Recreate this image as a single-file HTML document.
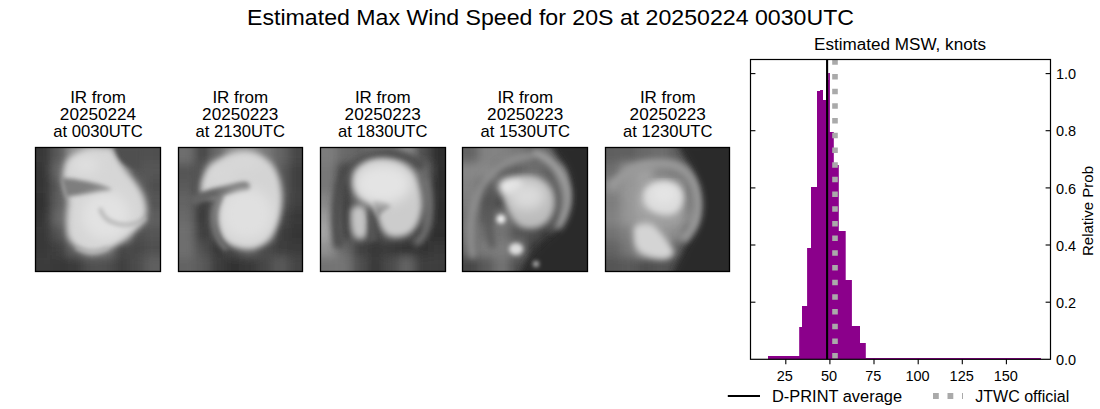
<!DOCTYPE html>
<html><head><meta charset="utf-8">
<style>
html,body{margin:0;padding:0;background:#fff;width:1100px;height:409px;overflow:hidden}
svg{position:absolute;left:0;top:0}
text{font-family:"Liberation Sans",sans-serif;fill:#000}
</style></head><body>
<svg width="1100" height="409" viewBox="0 0 1100 409">
<defs>
<filter id="b2" x="-20%" y="-20%" width="140%" height="140%"><feGaussianBlur stdDeviation="2"/></filter>
<filter id="b3" x="-20%" y="-20%" width="140%" height="140%"><feGaussianBlur stdDeviation="3"/></filter>
<filter id="b6" x="-30%" y="-30%" width="160%" height="160%"><feGaussianBlur stdDeviation="6"/></filter>
<filter id="b10" x="-50%" y="-50%" width="200%" height="200%"><feGaussianBlur stdDeviation="10"/></filter>
<clipPath id="c0"><rect x="0" y="0" width="125" height="124"/></clipPath>
<!--FILT-->
<filter id="bg0" x="-10%" y="-10%" width="120%" height="120%"><feGaussianBlur stdDeviation="5.00"/></filter>
<filter id="bg1" x="-10%" y="-10%" width="120%" height="120%"><feGaussianBlur stdDeviation="5.00"/></filter>
<filter id="bg2" x="-10%" y="-10%" width="120%" height="120%"><feGaussianBlur stdDeviation="5.00"/></filter>
<filter id="bg3" x="-10%" y="-10%" width="120%" height="120%"><feGaussianBlur stdDeviation="5.00"/></filter>
<filter id="bg4" x="-10%" y="-10%" width="120%" height="120%"><feGaussianBlur stdDeviation="5.00"/></filter>
<!--/FILT-->
</defs>

<!-- suptitle -->
<text x="247" y="25" font-size="22" textLength="607" lengthAdjust="spacingAndGlyphs">Estimated Max Wind Speed for 20S at 20250224 0030UTC</text>

<!-- panel titles -->
<g font-size="17" text-anchor="middle">
<text x="98" y="103">IR from</text><text x="98" y="120" textLength="76.3" lengthAdjust="spacingAndGlyphs">20250224</text><text x="98" y="137" textLength="89.6" lengthAdjust="spacingAndGlyphs">at 0030UTC</text>
<text x="240.25" y="103">IR from</text><text x="240.25" y="120" textLength="76.3" lengthAdjust="spacingAndGlyphs">20250223</text><text x="240.25" y="137" textLength="89.6" lengthAdjust="spacingAndGlyphs">at 2130UTC</text>
<text x="382.75" y="103">IR from</text><text x="382.75" y="120" textLength="76.3" lengthAdjust="spacingAndGlyphs">20250223</text><text x="382.75" y="137" textLength="89.6" lengthAdjust="spacingAndGlyphs">at 1830UTC</text>
<text x="525.25" y="103">IR from</text><text x="525.25" y="120" textLength="76.3" lengthAdjust="spacingAndGlyphs">20250223</text><text x="525.25" y="137" textLength="89.6" lengthAdjust="spacingAndGlyphs">at 1530UTC</text>
<text x="667.75" y="103">IR from</text><text x="667.75" y="120" textLength="76.3" lengthAdjust="spacingAndGlyphs">20250223</text><text x="667.75" y="137" textLength="89.6" lengthAdjust="spacingAndGlyphs">at 1230UTC</text>
</g>

<!--PANELS-->
<!-- panel 1 -->
<clipPath id="pc0"><rect x="0" y="0" width="124" height="123"/></clipPath>
<g transform="translate(36.00,148.00)" clip-path="url(#pc0)">
<g filter="url(#bg0)">
<rect x="-47.08" y="-46.70" width="16.02" height="15.90" fill="#373737"/>
<rect x="-31.45" y="-46.70" width="16.02" height="15.90" fill="#373737"/>
<rect x="-15.82" y="-46.70" width="16.02" height="15.90" fill="#373737"/>
<rect x="-0.20" y="-46.70" width="16.02" height="15.90" fill="#373737"/>
<rect x="15.43" y="-46.70" width="16.02" height="15.90" fill="#5a5a5a"/>
<rect x="31.05" y="-46.70" width="16.02" height="15.90" fill="#969696"/>
<rect x="46.67" y="-46.70" width="16.02" height="15.90" fill="#aaaaaa"/>
<rect x="62.30" y="-46.70" width="16.02" height="15.90" fill="#969696"/>
<rect x="77.92" y="-46.70" width="16.02" height="15.90" fill="#464646"/>
<rect x="93.55" y="-46.70" width="16.02" height="15.90" fill="#505050"/>
<rect x="109.17" y="-46.70" width="16.02" height="15.90" fill="#505050"/>
<rect x="124.80" y="-46.70" width="16.02" height="15.90" fill="#505050"/>
<rect x="140.43" y="-46.70" width="16.02" height="15.90" fill="#505050"/>
<rect x="156.05" y="-46.70" width="16.02" height="15.90" fill="#505050"/>
<rect x="-47.08" y="-31.20" width="16.02" height="15.90" fill="#373737"/>
<rect x="-31.45" y="-31.20" width="16.02" height="15.90" fill="#373737"/>
<rect x="-15.82" y="-31.20" width="16.02" height="15.90" fill="#373737"/>
<rect x="-0.20" y="-31.20" width="16.02" height="15.90" fill="#373737"/>
<rect x="15.43" y="-31.20" width="16.02" height="15.90" fill="#5a5a5a"/>
<rect x="31.05" y="-31.20" width="16.02" height="15.90" fill="#969696"/>
<rect x="46.67" y="-31.20" width="16.02" height="15.90" fill="#aaaaaa"/>
<rect x="62.30" y="-31.20" width="16.02" height="15.90" fill="#969696"/>
<rect x="77.92" y="-31.20" width="16.02" height="15.90" fill="#464646"/>
<rect x="93.55" y="-31.20" width="16.02" height="15.90" fill="#505050"/>
<rect x="109.17" y="-31.20" width="16.02" height="15.90" fill="#505050"/>
<rect x="124.80" y="-31.20" width="16.02" height="15.90" fill="#505050"/>
<rect x="140.43" y="-31.20" width="16.02" height="15.90" fill="#505050"/>
<rect x="156.05" y="-31.20" width="16.02" height="15.90" fill="#505050"/>
<rect x="-47.08" y="-15.70" width="16.02" height="15.90" fill="#373737"/>
<rect x="-31.45" y="-15.70" width="16.02" height="15.90" fill="#373737"/>
<rect x="-15.82" y="-15.70" width="16.02" height="15.90" fill="#373737"/>
<rect x="-0.20" y="-15.70" width="16.02" height="15.90" fill="#373737"/>
<rect x="15.43" y="-15.70" width="16.02" height="15.90" fill="#5a5a5a"/>
<rect x="31.05" y="-15.70" width="16.02" height="15.90" fill="#969696"/>
<rect x="46.67" y="-15.70" width="16.02" height="15.90" fill="#aaaaaa"/>
<rect x="62.30" y="-15.70" width="16.02" height="15.90" fill="#969696"/>
<rect x="77.92" y="-15.70" width="16.02" height="15.90" fill="#464646"/>
<rect x="93.55" y="-15.70" width="16.02" height="15.90" fill="#505050"/>
<rect x="109.17" y="-15.70" width="16.02" height="15.90" fill="#505050"/>
<rect x="124.80" y="-15.70" width="16.02" height="15.90" fill="#505050"/>
<rect x="140.43" y="-15.70" width="16.02" height="15.90" fill="#505050"/>
<rect x="156.05" y="-15.70" width="16.02" height="15.90" fill="#505050"/>
<rect x="-47.08" y="-0.20" width="16.02" height="15.90" fill="#373737"/>
<rect x="-31.45" y="-0.20" width="16.02" height="15.90" fill="#373737"/>
<rect x="-15.82" y="-0.20" width="16.02" height="15.90" fill="#373737"/>
<rect x="-0.20" y="-0.20" width="16.02" height="15.90" fill="#373737"/>
<rect x="15.43" y="-0.20" width="16.02" height="15.90" fill="#5a5a5a"/>
<rect x="31.05" y="-0.20" width="16.02" height="15.90" fill="#969696"/>
<rect x="46.67" y="-0.20" width="16.02" height="15.90" fill="#aaaaaa"/>
<rect x="62.30" y="-0.20" width="16.02" height="15.90" fill="#969696"/>
<rect x="77.92" y="-0.20" width="16.02" height="15.90" fill="#464646"/>
<rect x="93.55" y="-0.20" width="16.02" height="15.90" fill="#505050"/>
<rect x="109.17" y="-0.20" width="16.02" height="15.90" fill="#505050"/>
<rect x="124.80" y="-0.20" width="16.02" height="15.90" fill="#505050"/>
<rect x="140.43" y="-0.20" width="16.02" height="15.90" fill="#505050"/>
<rect x="156.05" y="-0.20" width="16.02" height="15.90" fill="#505050"/>
<rect x="-47.08" y="15.30" width="16.02" height="15.90" fill="#343434"/>
<rect x="-31.45" y="15.30" width="16.02" height="15.90" fill="#343434"/>
<rect x="-15.82" y="15.30" width="16.02" height="15.90" fill="#343434"/>
<rect x="-0.20" y="15.30" width="16.02" height="15.90" fill="#343434"/>
<rect x="15.43" y="15.30" width="16.02" height="15.90" fill="#696969"/>
<rect x="31.05" y="15.30" width="16.02" height="15.90" fill="#969696"/>
<rect x="46.67" y="15.30" width="16.02" height="15.90" fill="#aaaaaa"/>
<rect x="62.30" y="15.30" width="16.02" height="15.90" fill="#a0a0a0"/>
<rect x="77.92" y="15.30" width="16.02" height="15.90" fill="#828282"/>
<rect x="93.55" y="15.30" width="16.02" height="15.90" fill="#555555"/>
<rect x="109.17" y="15.30" width="16.02" height="15.90" fill="#555555"/>
<rect x="124.80" y="15.30" width="16.02" height="15.90" fill="#555555"/>
<rect x="140.43" y="15.30" width="16.02" height="15.90" fill="#555555"/>
<rect x="156.05" y="15.30" width="16.02" height="15.90" fill="#555555"/>
<rect x="-47.08" y="30.80" width="16.02" height="15.90" fill="#343434"/>
<rect x="-31.45" y="30.80" width="16.02" height="15.90" fill="#343434"/>
<rect x="-15.82" y="30.80" width="16.02" height="15.90" fill="#343434"/>
<rect x="-0.20" y="30.80" width="16.02" height="15.90" fill="#343434"/>
<rect x="15.43" y="30.80" width="16.02" height="15.90" fill="#5a5a5a"/>
<rect x="31.05" y="30.80" width="16.02" height="15.90" fill="#787878"/>
<rect x="46.67" y="30.80" width="16.02" height="15.90" fill="#787878"/>
<rect x="62.30" y="30.80" width="16.02" height="15.90" fill="#8c8c8c"/>
<rect x="77.92" y="30.80" width="16.02" height="15.90" fill="#969696"/>
<rect x="93.55" y="30.80" width="16.02" height="15.90" fill="#646464"/>
<rect x="109.17" y="30.80" width="16.02" height="15.90" fill="#505050"/>
<rect x="124.80" y="30.80" width="16.02" height="15.90" fill="#505050"/>
<rect x="140.43" y="30.80" width="16.02" height="15.90" fill="#505050"/>
<rect x="156.05" y="30.80" width="16.02" height="15.90" fill="#505050"/>
<rect x="-47.08" y="46.30" width="16.02" height="15.90" fill="#323232"/>
<rect x="-31.45" y="46.30" width="16.02" height="15.90" fill="#323232"/>
<rect x="-15.82" y="46.30" width="16.02" height="15.90" fill="#323232"/>
<rect x="-0.20" y="46.30" width="16.02" height="15.90" fill="#323232"/>
<rect x="15.43" y="46.30" width="16.02" height="15.90" fill="#5f5f5f"/>
<rect x="31.05" y="46.30" width="16.02" height="15.90" fill="#8c8c8c"/>
<rect x="46.67" y="46.30" width="16.02" height="15.90" fill="#aaaaaa"/>
<rect x="62.30" y="46.30" width="16.02" height="15.90" fill="#aaaaaa"/>
<rect x="77.92" y="46.30" width="16.02" height="15.90" fill="#aaaaaa"/>
<rect x="93.55" y="46.30" width="16.02" height="15.90" fill="#787878"/>
<rect x="109.17" y="46.30" width="16.02" height="15.90" fill="#555555"/>
<rect x="124.80" y="46.30" width="16.02" height="15.90" fill="#555555"/>
<rect x="140.43" y="46.30" width="16.02" height="15.90" fill="#555555"/>
<rect x="156.05" y="46.30" width="16.02" height="15.90" fill="#555555"/>
<rect x="-47.08" y="61.80" width="16.02" height="15.90" fill="#343434"/>
<rect x="-31.45" y="61.80" width="16.02" height="15.90" fill="#343434"/>
<rect x="-15.82" y="61.80" width="16.02" height="15.90" fill="#343434"/>
<rect x="-0.20" y="61.80" width="16.02" height="15.90" fill="#343434"/>
<rect x="15.43" y="61.80" width="16.02" height="15.90" fill="#696969"/>
<rect x="31.05" y="61.80" width="16.02" height="15.90" fill="#8c8c8c"/>
<rect x="46.67" y="61.80" width="16.02" height="15.90" fill="#aaaaaa"/>
<rect x="62.30" y="61.80" width="16.02" height="15.90" fill="#aaaaaa"/>
<rect x="77.92" y="61.80" width="16.02" height="15.90" fill="#aaaaaa"/>
<rect x="93.55" y="61.80" width="16.02" height="15.90" fill="#787878"/>
<rect x="109.17" y="61.80" width="16.02" height="15.90" fill="#5f5f5f"/>
<rect x="124.80" y="61.80" width="16.02" height="15.90" fill="#5f5f5f"/>
<rect x="140.43" y="61.80" width="16.02" height="15.90" fill="#5f5f5f"/>
<rect x="156.05" y="61.80" width="16.02" height="15.90" fill="#5f5f5f"/>
<rect x="-47.08" y="77.30" width="16.02" height="15.90" fill="#373737"/>
<rect x="-31.45" y="77.30" width="16.02" height="15.90" fill="#373737"/>
<rect x="-15.82" y="77.30" width="16.02" height="15.90" fill="#373737"/>
<rect x="-0.20" y="77.30" width="16.02" height="15.90" fill="#373737"/>
<rect x="15.43" y="77.30" width="16.02" height="15.90" fill="#555555"/>
<rect x="31.05" y="77.30" width="16.02" height="15.90" fill="#828282"/>
<rect x="46.67" y="77.30" width="16.02" height="15.90" fill="#aaaaaa"/>
<rect x="62.30" y="77.30" width="16.02" height="15.90" fill="#aaaaaa"/>
<rect x="77.92" y="77.30" width="16.02" height="15.90" fill="#969696"/>
<rect x="93.55" y="77.30" width="16.02" height="15.90" fill="#505050"/>
<rect x="109.17" y="77.30" width="16.02" height="15.90" fill="#555555"/>
<rect x="124.80" y="77.30" width="16.02" height="15.90" fill="#555555"/>
<rect x="140.43" y="77.30" width="16.02" height="15.90" fill="#555555"/>
<rect x="156.05" y="77.30" width="16.02" height="15.90" fill="#555555"/>
<rect x="-47.08" y="92.80" width="16.02" height="15.90" fill="#373737"/>
<rect x="-31.45" y="92.80" width="16.02" height="15.90" fill="#373737"/>
<rect x="-15.82" y="92.80" width="16.02" height="15.90" fill="#373737"/>
<rect x="-0.20" y="92.80" width="16.02" height="15.90" fill="#373737"/>
<rect x="15.43" y="92.80" width="16.02" height="15.90" fill="#414141"/>
<rect x="31.05" y="92.80" width="16.02" height="15.90" fill="#646464"/>
<rect x="46.67" y="92.80" width="16.02" height="15.90" fill="#828282"/>
<rect x="62.30" y="92.80" width="16.02" height="15.90" fill="#787878"/>
<rect x="77.92" y="92.80" width="16.02" height="15.90" fill="#464646"/>
<rect x="93.55" y="92.80" width="16.02" height="15.90" fill="#464646"/>
<rect x="109.17" y="92.80" width="16.02" height="15.90" fill="#505050"/>
<rect x="124.80" y="92.80" width="16.02" height="15.90" fill="#505050"/>
<rect x="140.43" y="92.80" width="16.02" height="15.90" fill="#505050"/>
<rect x="156.05" y="92.80" width="16.02" height="15.90" fill="#505050"/>
<rect x="-47.08" y="108.30" width="16.02" height="15.90" fill="#3a3a3a"/>
<rect x="-31.45" y="108.30" width="16.02" height="15.90" fill="#3a3a3a"/>
<rect x="-15.82" y="108.30" width="16.02" height="15.90" fill="#3a3a3a"/>
<rect x="-0.20" y="108.30" width="16.02" height="15.90" fill="#3a3a3a"/>
<rect x="15.43" y="108.30" width="16.02" height="15.90" fill="#373737"/>
<rect x="31.05" y="108.30" width="16.02" height="15.90" fill="#3a3a3a"/>
<rect x="46.67" y="108.30" width="16.02" height="15.90" fill="#505050"/>
<rect x="62.30" y="108.30" width="16.02" height="15.90" fill="#505050"/>
<rect x="77.92" y="108.30" width="16.02" height="15.90" fill="#414141"/>
<rect x="93.55" y="108.30" width="16.02" height="15.90" fill="#4b4b4b"/>
<rect x="109.17" y="108.30" width="16.02" height="15.90" fill="#5f5f5f"/>
<rect x="124.80" y="108.30" width="16.02" height="15.90" fill="#5f5f5f"/>
<rect x="140.43" y="108.30" width="16.02" height="15.90" fill="#5f5f5f"/>
<rect x="156.05" y="108.30" width="16.02" height="15.90" fill="#5f5f5f"/>
<rect x="-47.08" y="123.80" width="16.02" height="15.90" fill="#3a3a3a"/>
<rect x="-31.45" y="123.80" width="16.02" height="15.90" fill="#3a3a3a"/>
<rect x="-15.82" y="123.80" width="16.02" height="15.90" fill="#3a3a3a"/>
<rect x="-0.20" y="123.80" width="16.02" height="15.90" fill="#3a3a3a"/>
<rect x="15.43" y="123.80" width="16.02" height="15.90" fill="#373737"/>
<rect x="31.05" y="123.80" width="16.02" height="15.90" fill="#3a3a3a"/>
<rect x="46.67" y="123.80" width="16.02" height="15.90" fill="#505050"/>
<rect x="62.30" y="123.80" width="16.02" height="15.90" fill="#505050"/>
<rect x="77.92" y="123.80" width="16.02" height="15.90" fill="#414141"/>
<rect x="93.55" y="123.80" width="16.02" height="15.90" fill="#4b4b4b"/>
<rect x="109.17" y="123.80" width="16.02" height="15.90" fill="#5f5f5f"/>
<rect x="124.80" y="123.80" width="16.02" height="15.90" fill="#5f5f5f"/>
<rect x="140.43" y="123.80" width="16.02" height="15.90" fill="#5f5f5f"/>
<rect x="156.05" y="123.80" width="16.02" height="15.90" fill="#5f5f5f"/>
<rect x="-47.08" y="139.30" width="16.02" height="15.90" fill="#3a3a3a"/>
<rect x="-31.45" y="139.30" width="16.02" height="15.90" fill="#3a3a3a"/>
<rect x="-15.82" y="139.30" width="16.02" height="15.90" fill="#3a3a3a"/>
<rect x="-0.20" y="139.30" width="16.02" height="15.90" fill="#3a3a3a"/>
<rect x="15.43" y="139.30" width="16.02" height="15.90" fill="#373737"/>
<rect x="31.05" y="139.30" width="16.02" height="15.90" fill="#3a3a3a"/>
<rect x="46.67" y="139.30" width="16.02" height="15.90" fill="#505050"/>
<rect x="62.30" y="139.30" width="16.02" height="15.90" fill="#505050"/>
<rect x="77.92" y="139.30" width="16.02" height="15.90" fill="#414141"/>
<rect x="93.55" y="139.30" width="16.02" height="15.90" fill="#4b4b4b"/>
<rect x="109.17" y="139.30" width="16.02" height="15.90" fill="#5f5f5f"/>
<rect x="124.80" y="139.30" width="16.02" height="15.90" fill="#5f5f5f"/>
<rect x="140.43" y="139.30" width="16.02" height="15.90" fill="#5f5f5f"/>
<rect x="156.05" y="139.30" width="16.02" height="15.90" fill="#5f5f5f"/>
<rect x="-47.08" y="154.80" width="16.02" height="15.90" fill="#3a3a3a"/>
<rect x="-31.45" y="154.80" width="16.02" height="15.90" fill="#3a3a3a"/>
<rect x="-15.82" y="154.80" width="16.02" height="15.90" fill="#3a3a3a"/>
<rect x="-0.20" y="154.80" width="16.02" height="15.90" fill="#3a3a3a"/>
<rect x="15.43" y="154.80" width="16.02" height="15.90" fill="#373737"/>
<rect x="31.05" y="154.80" width="16.02" height="15.90" fill="#3a3a3a"/>
<rect x="46.67" y="154.80" width="16.02" height="15.90" fill="#505050"/>
<rect x="62.30" y="154.80" width="16.02" height="15.90" fill="#505050"/>
<rect x="77.92" y="154.80" width="16.02" height="15.90" fill="#414141"/>
<rect x="93.55" y="154.80" width="16.02" height="15.90" fill="#4b4b4b"/>
<rect x="109.17" y="154.80" width="16.02" height="15.90" fill="#5f5f5f"/>
<rect x="124.80" y="154.80" width="16.02" height="15.90" fill="#5f5f5f"/>
<rect x="140.43" y="154.80" width="16.02" height="15.90" fill="#5f5f5f"/>
<rect x="156.05" y="154.80" width="16.02" height="15.90" fill="#5f5f5f"/>
</g>
<g filter="url(#b3)">
<path d="M30,14 C36,6 48,1 62,0 L76,0 C80,8 86,18 94,28 C102,36 108,46 110,58 C112,68 106,78 98,84 C90,90 82,96 74,100 C66,104 58,107 50,104 C42,101 35,96 32,88 C30,78 31,64 33,54 C32,48 28,44 27,36 C26,28 28,20 30,14 Z" fill="#d6d6d6"/>
</g>
<g filter="url(#b2)">
<path d="M25,30 C38,30 50,33 62,36 C68,38 74,40 76,42 C66,45 50,45 30,49 Z" fill="#7e7e7e"/>
<path d="M78,-2 L105,-2 L105,22 C98,22 90,18 86,13 C83,9 81,5 78,-2 Z" fill="#505050"/>
</g>
<g filter="url(#b6)">
<ellipse cx="70" cy="68" rx="24" ry="24" fill="#e2e2e2"/>
<ellipse cx="50" cy="17" rx="13" ry="8" fill="#e0e0e0"/>
</g>
<g filter="url(#b2)" fill="none">
<path d="M64,60 C66,68 72,74 82,76 C92,78 102,76 110,70" stroke="#b4b4b4" stroke-width="3.5"/>
<path d="M40,100 C50,104 62,104 72,100" stroke="#b0b0b0" stroke-width="3"/>
</g>
</g>
<!-- panel 2 -->
<clipPath id="pc1"><rect x="0" y="0" width="123" height="123"/></clipPath>
<g transform="translate(179.00,148.00)" clip-path="url(#pc1)">
<g filter="url(#bg1)">
<rect x="-47.08" y="-46.70" width="16.02" height="15.90" fill="#6e6e6e"/>
<rect x="-31.45" y="-46.70" width="16.02" height="15.90" fill="#6e6e6e"/>
<rect x="-15.82" y="-46.70" width="16.02" height="15.90" fill="#6e6e6e"/>
<rect x="-0.20" y="-46.70" width="16.02" height="15.90" fill="#6e6e6e"/>
<rect x="15.43" y="-46.70" width="16.02" height="15.90" fill="#464646"/>
<rect x="31.05" y="-46.70" width="16.02" height="15.90" fill="#696969"/>
<rect x="46.67" y="-46.70" width="16.02" height="15.90" fill="#8c8c8c"/>
<rect x="62.30" y="-46.70" width="16.02" height="15.90" fill="#8c8c8c"/>
<rect x="77.92" y="-46.70" width="16.02" height="15.90" fill="#787878"/>
<rect x="93.55" y="-46.70" width="16.02" height="15.90" fill="#646464"/>
<rect x="109.17" y="-46.70" width="16.02" height="15.90" fill="#464646"/>
<rect x="124.80" y="-46.70" width="16.02" height="15.90" fill="#464646"/>
<rect x="140.43" y="-46.70" width="16.02" height="15.90" fill="#464646"/>
<rect x="156.05" y="-46.70" width="16.02" height="15.90" fill="#464646"/>
<rect x="-47.08" y="-31.20" width="16.02" height="15.90" fill="#6e6e6e"/>
<rect x="-31.45" y="-31.20" width="16.02" height="15.90" fill="#6e6e6e"/>
<rect x="-15.82" y="-31.20" width="16.02" height="15.90" fill="#6e6e6e"/>
<rect x="-0.20" y="-31.20" width="16.02" height="15.90" fill="#6e6e6e"/>
<rect x="15.43" y="-31.20" width="16.02" height="15.90" fill="#464646"/>
<rect x="31.05" y="-31.20" width="16.02" height="15.90" fill="#696969"/>
<rect x="46.67" y="-31.20" width="16.02" height="15.90" fill="#8c8c8c"/>
<rect x="62.30" y="-31.20" width="16.02" height="15.90" fill="#8c8c8c"/>
<rect x="77.92" y="-31.20" width="16.02" height="15.90" fill="#787878"/>
<rect x="93.55" y="-31.20" width="16.02" height="15.90" fill="#646464"/>
<rect x="109.17" y="-31.20" width="16.02" height="15.90" fill="#464646"/>
<rect x="124.80" y="-31.20" width="16.02" height="15.90" fill="#464646"/>
<rect x="140.43" y="-31.20" width="16.02" height="15.90" fill="#464646"/>
<rect x="156.05" y="-31.20" width="16.02" height="15.90" fill="#464646"/>
<rect x="-47.08" y="-15.70" width="16.02" height="15.90" fill="#6e6e6e"/>
<rect x="-31.45" y="-15.70" width="16.02" height="15.90" fill="#6e6e6e"/>
<rect x="-15.82" y="-15.70" width="16.02" height="15.90" fill="#6e6e6e"/>
<rect x="-0.20" y="-15.70" width="16.02" height="15.90" fill="#6e6e6e"/>
<rect x="15.43" y="-15.70" width="16.02" height="15.90" fill="#464646"/>
<rect x="31.05" y="-15.70" width="16.02" height="15.90" fill="#696969"/>
<rect x="46.67" y="-15.70" width="16.02" height="15.90" fill="#8c8c8c"/>
<rect x="62.30" y="-15.70" width="16.02" height="15.90" fill="#8c8c8c"/>
<rect x="77.92" y="-15.70" width="16.02" height="15.90" fill="#787878"/>
<rect x="93.55" y="-15.70" width="16.02" height="15.90" fill="#646464"/>
<rect x="109.17" y="-15.70" width="16.02" height="15.90" fill="#464646"/>
<rect x="124.80" y="-15.70" width="16.02" height="15.90" fill="#464646"/>
<rect x="140.43" y="-15.70" width="16.02" height="15.90" fill="#464646"/>
<rect x="156.05" y="-15.70" width="16.02" height="15.90" fill="#464646"/>
<rect x="-47.08" y="-0.20" width="16.02" height="15.90" fill="#6e6e6e"/>
<rect x="-31.45" y="-0.20" width="16.02" height="15.90" fill="#6e6e6e"/>
<rect x="-15.82" y="-0.20" width="16.02" height="15.90" fill="#6e6e6e"/>
<rect x="-0.20" y="-0.20" width="16.02" height="15.90" fill="#6e6e6e"/>
<rect x="15.43" y="-0.20" width="16.02" height="15.90" fill="#464646"/>
<rect x="31.05" y="-0.20" width="16.02" height="15.90" fill="#696969"/>
<rect x="46.67" y="-0.20" width="16.02" height="15.90" fill="#8c8c8c"/>
<rect x="62.30" y="-0.20" width="16.02" height="15.90" fill="#8c8c8c"/>
<rect x="77.92" y="-0.20" width="16.02" height="15.90" fill="#787878"/>
<rect x="93.55" y="-0.20" width="16.02" height="15.90" fill="#646464"/>
<rect x="109.17" y="-0.20" width="16.02" height="15.90" fill="#464646"/>
<rect x="124.80" y="-0.20" width="16.02" height="15.90" fill="#464646"/>
<rect x="140.43" y="-0.20" width="16.02" height="15.90" fill="#464646"/>
<rect x="156.05" y="-0.20" width="16.02" height="15.90" fill="#464646"/>
<rect x="-47.08" y="15.30" width="16.02" height="15.90" fill="#555555"/>
<rect x="-31.45" y="15.30" width="16.02" height="15.90" fill="#555555"/>
<rect x="-15.82" y="15.30" width="16.02" height="15.90" fill="#555555"/>
<rect x="-0.20" y="15.30" width="16.02" height="15.90" fill="#555555"/>
<rect x="15.43" y="15.30" width="16.02" height="15.90" fill="#505050"/>
<rect x="31.05" y="15.30" width="16.02" height="15.90" fill="#8c8c8c"/>
<rect x="46.67" y="15.30" width="16.02" height="15.90" fill="#a0a0a0"/>
<rect x="62.30" y="15.30" width="16.02" height="15.90" fill="#a0a0a0"/>
<rect x="77.92" y="15.30" width="16.02" height="15.90" fill="#969696"/>
<rect x="93.55" y="15.30" width="16.02" height="15.90" fill="#5a5a5a"/>
<rect x="109.17" y="15.30" width="16.02" height="15.90" fill="#414141"/>
<rect x="124.80" y="15.30" width="16.02" height="15.90" fill="#414141"/>
<rect x="140.43" y="15.30" width="16.02" height="15.90" fill="#414141"/>
<rect x="156.05" y="15.30" width="16.02" height="15.90" fill="#414141"/>
<rect x="-47.08" y="30.80" width="16.02" height="15.90" fill="#5a5a5a"/>
<rect x="-31.45" y="30.80" width="16.02" height="15.90" fill="#5a5a5a"/>
<rect x="-15.82" y="30.80" width="16.02" height="15.90" fill="#5a5a5a"/>
<rect x="-0.20" y="30.80" width="16.02" height="15.90" fill="#5a5a5a"/>
<rect x="15.43" y="30.80" width="16.02" height="15.90" fill="#464646"/>
<rect x="31.05" y="30.80" width="16.02" height="15.90" fill="#787878"/>
<rect x="46.67" y="30.80" width="16.02" height="15.90" fill="#828282"/>
<rect x="62.30" y="30.80" width="16.02" height="15.90" fill="#a0a0a0"/>
<rect x="77.92" y="30.80" width="16.02" height="15.90" fill="#a0a0a0"/>
<rect x="93.55" y="30.80" width="16.02" height="15.90" fill="#5a5a5a"/>
<rect x="109.17" y="30.80" width="16.02" height="15.90" fill="#414141"/>
<rect x="124.80" y="30.80" width="16.02" height="15.90" fill="#414141"/>
<rect x="140.43" y="30.80" width="16.02" height="15.90" fill="#414141"/>
<rect x="156.05" y="30.80" width="16.02" height="15.90" fill="#414141"/>
<rect x="-47.08" y="46.30" width="16.02" height="15.90" fill="#646464"/>
<rect x="-31.45" y="46.30" width="16.02" height="15.90" fill="#646464"/>
<rect x="-15.82" y="46.30" width="16.02" height="15.90" fill="#646464"/>
<rect x="-0.20" y="46.30" width="16.02" height="15.90" fill="#646464"/>
<rect x="15.43" y="46.30" width="16.02" height="15.90" fill="#3c3c3c"/>
<rect x="31.05" y="46.30" width="16.02" height="15.90" fill="#5a5a5a"/>
<rect x="46.67" y="46.30" width="16.02" height="15.90" fill="#a0a0a0"/>
<rect x="62.30" y="46.30" width="16.02" height="15.90" fill="#aaaaaa"/>
<rect x="77.92" y="46.30" width="16.02" height="15.90" fill="#a0a0a0"/>
<rect x="93.55" y="46.30" width="16.02" height="15.90" fill="#555555"/>
<rect x="109.17" y="46.30" width="16.02" height="15.90" fill="#414141"/>
<rect x="124.80" y="46.30" width="16.02" height="15.90" fill="#414141"/>
<rect x="140.43" y="46.30" width="16.02" height="15.90" fill="#414141"/>
<rect x="156.05" y="46.30" width="16.02" height="15.90" fill="#414141"/>
<rect x="-47.08" y="61.80" width="16.02" height="15.90" fill="#696969"/>
<rect x="-31.45" y="61.80" width="16.02" height="15.90" fill="#696969"/>
<rect x="-15.82" y="61.80" width="16.02" height="15.90" fill="#696969"/>
<rect x="-0.20" y="61.80" width="16.02" height="15.90" fill="#696969"/>
<rect x="15.43" y="61.80" width="16.02" height="15.90" fill="#373737"/>
<rect x="31.05" y="61.80" width="16.02" height="15.90" fill="#646464"/>
<rect x="46.67" y="61.80" width="16.02" height="15.90" fill="#aaaaaa"/>
<rect x="62.30" y="61.80" width="16.02" height="15.90" fill="#aaaaaa"/>
<rect x="77.92" y="61.80" width="16.02" height="15.90" fill="#969696"/>
<rect x="93.55" y="61.80" width="16.02" height="15.90" fill="#464646"/>
<rect x="109.17" y="61.80" width="16.02" height="15.90" fill="#373737"/>
<rect x="124.80" y="61.80" width="16.02" height="15.90" fill="#373737"/>
<rect x="140.43" y="61.80" width="16.02" height="15.90" fill="#373737"/>
<rect x="156.05" y="61.80" width="16.02" height="15.90" fill="#373737"/>
<rect x="-47.08" y="77.30" width="16.02" height="15.90" fill="#6e6e6e"/>
<rect x="-31.45" y="77.30" width="16.02" height="15.90" fill="#6e6e6e"/>
<rect x="-15.82" y="77.30" width="16.02" height="15.90" fill="#6e6e6e"/>
<rect x="-0.20" y="77.30" width="16.02" height="15.90" fill="#6e6e6e"/>
<rect x="15.43" y="77.30" width="16.02" height="15.90" fill="#3c3c3c"/>
<rect x="31.05" y="77.30" width="16.02" height="15.90" fill="#505050"/>
<rect x="46.67" y="77.30" width="16.02" height="15.90" fill="#969696"/>
<rect x="62.30" y="77.30" width="16.02" height="15.90" fill="#aaaaaa"/>
<rect x="77.92" y="77.30" width="16.02" height="15.90" fill="#828282"/>
<rect x="93.55" y="77.30" width="16.02" height="15.90" fill="#3c3c3c"/>
<rect x="109.17" y="77.30" width="16.02" height="15.90" fill="#343434"/>
<rect x="124.80" y="77.30" width="16.02" height="15.90" fill="#343434"/>
<rect x="140.43" y="77.30" width="16.02" height="15.90" fill="#343434"/>
<rect x="156.05" y="77.30" width="16.02" height="15.90" fill="#343434"/>
<rect x="-47.08" y="92.80" width="16.02" height="15.90" fill="#6e6e6e"/>
<rect x="-31.45" y="92.80" width="16.02" height="15.90" fill="#6e6e6e"/>
<rect x="-15.82" y="92.80" width="16.02" height="15.90" fill="#6e6e6e"/>
<rect x="-0.20" y="92.80" width="16.02" height="15.90" fill="#6e6e6e"/>
<rect x="15.43" y="92.80" width="16.02" height="15.90" fill="#505050"/>
<rect x="31.05" y="92.80" width="16.02" height="15.90" fill="#373737"/>
<rect x="46.67" y="92.80" width="16.02" height="15.90" fill="#4b4b4b"/>
<rect x="62.30" y="92.80" width="16.02" height="15.90" fill="#646464"/>
<rect x="77.92" y="92.80" width="16.02" height="15.90" fill="#4b4b4b"/>
<rect x="93.55" y="92.80" width="16.02" height="15.90" fill="#3c3c3c"/>
<rect x="109.17" y="92.80" width="16.02" height="15.90" fill="#3a3a3a"/>
<rect x="124.80" y="92.80" width="16.02" height="15.90" fill="#3a3a3a"/>
<rect x="140.43" y="92.80" width="16.02" height="15.90" fill="#3a3a3a"/>
<rect x="156.05" y="92.80" width="16.02" height="15.90" fill="#3a3a3a"/>
<rect x="-47.08" y="108.30" width="16.02" height="15.90" fill="#646464"/>
<rect x="-31.45" y="108.30" width="16.02" height="15.90" fill="#646464"/>
<rect x="-15.82" y="108.30" width="16.02" height="15.90" fill="#646464"/>
<rect x="-0.20" y="108.30" width="16.02" height="15.90" fill="#646464"/>
<rect x="15.43" y="108.30" width="16.02" height="15.90" fill="#5a5a5a"/>
<rect x="31.05" y="108.30" width="16.02" height="15.90" fill="#3c3c3c"/>
<rect x="46.67" y="108.30" width="16.02" height="15.90" fill="#323232"/>
<rect x="62.30" y="108.30" width="16.02" height="15.90" fill="#373737"/>
<rect x="77.92" y="108.30" width="16.02" height="15.90" fill="#464646"/>
<rect x="93.55" y="108.30" width="16.02" height="15.90" fill="#585858"/>
<rect x="109.17" y="108.30" width="16.02" height="15.90" fill="#444444"/>
<rect x="124.80" y="108.30" width="16.02" height="15.90" fill="#444444"/>
<rect x="140.43" y="108.30" width="16.02" height="15.90" fill="#444444"/>
<rect x="156.05" y="108.30" width="16.02" height="15.90" fill="#444444"/>
<rect x="-47.08" y="123.80" width="16.02" height="15.90" fill="#646464"/>
<rect x="-31.45" y="123.80" width="16.02" height="15.90" fill="#646464"/>
<rect x="-15.82" y="123.80" width="16.02" height="15.90" fill="#646464"/>
<rect x="-0.20" y="123.80" width="16.02" height="15.90" fill="#646464"/>
<rect x="15.43" y="123.80" width="16.02" height="15.90" fill="#5a5a5a"/>
<rect x="31.05" y="123.80" width="16.02" height="15.90" fill="#3c3c3c"/>
<rect x="46.67" y="123.80" width="16.02" height="15.90" fill="#323232"/>
<rect x="62.30" y="123.80" width="16.02" height="15.90" fill="#373737"/>
<rect x="77.92" y="123.80" width="16.02" height="15.90" fill="#464646"/>
<rect x="93.55" y="123.80" width="16.02" height="15.90" fill="#585858"/>
<rect x="109.17" y="123.80" width="16.02" height="15.90" fill="#444444"/>
<rect x="124.80" y="123.80" width="16.02" height="15.90" fill="#444444"/>
<rect x="140.43" y="123.80" width="16.02" height="15.90" fill="#444444"/>
<rect x="156.05" y="123.80" width="16.02" height="15.90" fill="#444444"/>
<rect x="-47.08" y="139.30" width="16.02" height="15.90" fill="#646464"/>
<rect x="-31.45" y="139.30" width="16.02" height="15.90" fill="#646464"/>
<rect x="-15.82" y="139.30" width="16.02" height="15.90" fill="#646464"/>
<rect x="-0.20" y="139.30" width="16.02" height="15.90" fill="#646464"/>
<rect x="15.43" y="139.30" width="16.02" height="15.90" fill="#5a5a5a"/>
<rect x="31.05" y="139.30" width="16.02" height="15.90" fill="#3c3c3c"/>
<rect x="46.67" y="139.30" width="16.02" height="15.90" fill="#323232"/>
<rect x="62.30" y="139.30" width="16.02" height="15.90" fill="#373737"/>
<rect x="77.92" y="139.30" width="16.02" height="15.90" fill="#464646"/>
<rect x="93.55" y="139.30" width="16.02" height="15.90" fill="#585858"/>
<rect x="109.17" y="139.30" width="16.02" height="15.90" fill="#444444"/>
<rect x="124.80" y="139.30" width="16.02" height="15.90" fill="#444444"/>
<rect x="140.43" y="139.30" width="16.02" height="15.90" fill="#444444"/>
<rect x="156.05" y="139.30" width="16.02" height="15.90" fill="#444444"/>
<rect x="-47.08" y="154.80" width="16.02" height="15.90" fill="#646464"/>
<rect x="-31.45" y="154.80" width="16.02" height="15.90" fill="#646464"/>
<rect x="-15.82" y="154.80" width="16.02" height="15.90" fill="#646464"/>
<rect x="-0.20" y="154.80" width="16.02" height="15.90" fill="#646464"/>
<rect x="15.43" y="154.80" width="16.02" height="15.90" fill="#5a5a5a"/>
<rect x="31.05" y="154.80" width="16.02" height="15.90" fill="#3c3c3c"/>
<rect x="46.67" y="154.80" width="16.02" height="15.90" fill="#323232"/>
<rect x="62.30" y="154.80" width="16.02" height="15.90" fill="#373737"/>
<rect x="77.92" y="154.80" width="16.02" height="15.90" fill="#464646"/>
<rect x="93.55" y="154.80" width="16.02" height="15.90" fill="#585858"/>
<rect x="109.17" y="154.80" width="16.02" height="15.90" fill="#444444"/>
<rect x="124.80" y="154.80" width="16.02" height="15.90" fill="#444444"/>
<rect x="140.43" y="154.80" width="16.02" height="15.90" fill="#444444"/>
<rect x="156.05" y="154.80" width="16.02" height="15.90" fill="#444444"/>
</g>
<g filter="url(#b3)">
<path d="M22,34 C26,22 38,10 52,6 C64,3 78,4 88,12 C98,20 102,32 103,46 C104,60 100,74 95,84 C90,94 82,100 72,101 C60,102 48,98 43,88 C39,80 39,68 41,60 C42,54 44,50 46,48 C38,49 28,50 22,48 C21,42 21,37 22,34 Z" fill="#d4d4d4"/>
</g>
<g filter="url(#b2)" fill="none" stroke-linecap="round">
<path d="M16,52 C28,47 40,43 52,41 C58,40 62,39 66,39" stroke="#646464" stroke-width="10"/>
<path d="M42,48 C36,56 34,66 35,76 C36,86 40,94 46,100" stroke="#707070" stroke-width="6"/>
</g>
<g filter="url(#b6)">
<ellipse cx="68" cy="66" rx="26" ry="26" fill="#e0e0e0"/>
<ellipse cx="42" cy="26" rx="14" ry="10" fill="#d8d8d8"/>
<ellipse cx="66" cy="14" rx="16" ry="8" fill="#d8d8d8"/>
</g>
</g>
<!-- panel 3 -->
<clipPath id="pc2"><rect x="0" y="0" width="124" height="123"/></clipPath>
<g transform="translate(321.00,148.00)" clip-path="url(#pc2)">
<g filter="url(#bg2)">
<rect x="-47.08" y="-46.70" width="16.02" height="15.90" fill="#7d7d7d"/>
<rect x="-31.45" y="-46.70" width="16.02" height="15.90" fill="#7d7d7d"/>
<rect x="-15.82" y="-46.70" width="16.02" height="15.90" fill="#7d7d7d"/>
<rect x="-0.20" y="-46.70" width="16.02" height="15.90" fill="#7d7d7d"/>
<rect x="15.43" y="-46.70" width="16.02" height="15.90" fill="#696969"/>
<rect x="31.05" y="-46.70" width="16.02" height="15.90" fill="#646464"/>
<rect x="46.67" y="-46.70" width="16.02" height="15.90" fill="#6e6e6e"/>
<rect x="62.30" y="-46.70" width="16.02" height="15.90" fill="#6e6e6e"/>
<rect x="77.92" y="-46.70" width="16.02" height="15.90" fill="#8c8c8c"/>
<rect x="93.55" y="-46.70" width="16.02" height="15.90" fill="#505050"/>
<rect x="109.17" y="-46.70" width="16.02" height="15.90" fill="#2d2d2d"/>
<rect x="124.80" y="-46.70" width="16.02" height="15.90" fill="#2d2d2d"/>
<rect x="140.43" y="-46.70" width="16.02" height="15.90" fill="#2d2d2d"/>
<rect x="156.05" y="-46.70" width="16.02" height="15.90" fill="#2d2d2d"/>
<rect x="-47.08" y="-31.20" width="16.02" height="15.90" fill="#7d7d7d"/>
<rect x="-31.45" y="-31.20" width="16.02" height="15.90" fill="#7d7d7d"/>
<rect x="-15.82" y="-31.20" width="16.02" height="15.90" fill="#7d7d7d"/>
<rect x="-0.20" y="-31.20" width="16.02" height="15.90" fill="#7d7d7d"/>
<rect x="15.43" y="-31.20" width="16.02" height="15.90" fill="#696969"/>
<rect x="31.05" y="-31.20" width="16.02" height="15.90" fill="#646464"/>
<rect x="46.67" y="-31.20" width="16.02" height="15.90" fill="#6e6e6e"/>
<rect x="62.30" y="-31.20" width="16.02" height="15.90" fill="#6e6e6e"/>
<rect x="77.92" y="-31.20" width="16.02" height="15.90" fill="#8c8c8c"/>
<rect x="93.55" y="-31.20" width="16.02" height="15.90" fill="#505050"/>
<rect x="109.17" y="-31.20" width="16.02" height="15.90" fill="#2d2d2d"/>
<rect x="124.80" y="-31.20" width="16.02" height="15.90" fill="#2d2d2d"/>
<rect x="140.43" y="-31.20" width="16.02" height="15.90" fill="#2d2d2d"/>
<rect x="156.05" y="-31.20" width="16.02" height="15.90" fill="#2d2d2d"/>
<rect x="-47.08" y="-15.70" width="16.02" height="15.90" fill="#7d7d7d"/>
<rect x="-31.45" y="-15.70" width="16.02" height="15.90" fill="#7d7d7d"/>
<rect x="-15.82" y="-15.70" width="16.02" height="15.90" fill="#7d7d7d"/>
<rect x="-0.20" y="-15.70" width="16.02" height="15.90" fill="#7d7d7d"/>
<rect x="15.43" y="-15.70" width="16.02" height="15.90" fill="#696969"/>
<rect x="31.05" y="-15.70" width="16.02" height="15.90" fill="#646464"/>
<rect x="46.67" y="-15.70" width="16.02" height="15.90" fill="#6e6e6e"/>
<rect x="62.30" y="-15.70" width="16.02" height="15.90" fill="#6e6e6e"/>
<rect x="77.92" y="-15.70" width="16.02" height="15.90" fill="#8c8c8c"/>
<rect x="93.55" y="-15.70" width="16.02" height="15.90" fill="#505050"/>
<rect x="109.17" y="-15.70" width="16.02" height="15.90" fill="#2d2d2d"/>
<rect x="124.80" y="-15.70" width="16.02" height="15.90" fill="#2d2d2d"/>
<rect x="140.43" y="-15.70" width="16.02" height="15.90" fill="#2d2d2d"/>
<rect x="156.05" y="-15.70" width="16.02" height="15.90" fill="#2d2d2d"/>
<rect x="-47.08" y="-0.20" width="16.02" height="15.90" fill="#7d7d7d"/>
<rect x="-31.45" y="-0.20" width="16.02" height="15.90" fill="#7d7d7d"/>
<rect x="-15.82" y="-0.20" width="16.02" height="15.90" fill="#7d7d7d"/>
<rect x="-0.20" y="-0.20" width="16.02" height="15.90" fill="#7d7d7d"/>
<rect x="15.43" y="-0.20" width="16.02" height="15.90" fill="#696969"/>
<rect x="31.05" y="-0.20" width="16.02" height="15.90" fill="#646464"/>
<rect x="46.67" y="-0.20" width="16.02" height="15.90" fill="#6e6e6e"/>
<rect x="62.30" y="-0.20" width="16.02" height="15.90" fill="#6e6e6e"/>
<rect x="77.92" y="-0.20" width="16.02" height="15.90" fill="#8c8c8c"/>
<rect x="93.55" y="-0.20" width="16.02" height="15.90" fill="#505050"/>
<rect x="109.17" y="-0.20" width="16.02" height="15.90" fill="#2d2d2d"/>
<rect x="124.80" y="-0.20" width="16.02" height="15.90" fill="#2d2d2d"/>
<rect x="140.43" y="-0.20" width="16.02" height="15.90" fill="#2d2d2d"/>
<rect x="156.05" y="-0.20" width="16.02" height="15.90" fill="#2d2d2d"/>
<rect x="-47.08" y="15.30" width="16.02" height="15.90" fill="#787878"/>
<rect x="-31.45" y="15.30" width="16.02" height="15.90" fill="#787878"/>
<rect x="-15.82" y="15.30" width="16.02" height="15.90" fill="#787878"/>
<rect x="-0.20" y="15.30" width="16.02" height="15.90" fill="#787878"/>
<rect x="15.43" y="15.30" width="16.02" height="15.90" fill="#414141"/>
<rect x="31.05" y="15.30" width="16.02" height="15.90" fill="#555555"/>
<rect x="46.67" y="15.30" width="16.02" height="15.90" fill="#8c8c8c"/>
<rect x="62.30" y="15.30" width="16.02" height="15.90" fill="#8c8c8c"/>
<rect x="77.92" y="15.30" width="16.02" height="15.90" fill="#6e6e6e"/>
<rect x="93.55" y="15.30" width="16.02" height="15.90" fill="#6e6e6e"/>
<rect x="109.17" y="15.30" width="16.02" height="15.90" fill="#2d2d2d"/>
<rect x="124.80" y="15.30" width="16.02" height="15.90" fill="#2d2d2d"/>
<rect x="140.43" y="15.30" width="16.02" height="15.90" fill="#2d2d2d"/>
<rect x="156.05" y="15.30" width="16.02" height="15.90" fill="#2d2d2d"/>
<rect x="-47.08" y="30.80" width="16.02" height="15.90" fill="#787878"/>
<rect x="-31.45" y="30.80" width="16.02" height="15.90" fill="#787878"/>
<rect x="-15.82" y="30.80" width="16.02" height="15.90" fill="#787878"/>
<rect x="-0.20" y="30.80" width="16.02" height="15.90" fill="#787878"/>
<rect x="15.43" y="30.80" width="16.02" height="15.90" fill="#373737"/>
<rect x="31.05" y="30.80" width="16.02" height="15.90" fill="#646464"/>
<rect x="46.67" y="30.80" width="16.02" height="15.90" fill="#8c8c8c"/>
<rect x="62.30" y="30.80" width="16.02" height="15.90" fill="#8c8c8c"/>
<rect x="77.92" y="30.80" width="16.02" height="15.90" fill="#787878"/>
<rect x="93.55" y="30.80" width="16.02" height="15.90" fill="#5a5a5a"/>
<rect x="109.17" y="30.80" width="16.02" height="15.90" fill="#2d2d2d"/>
<rect x="124.80" y="30.80" width="16.02" height="15.90" fill="#2d2d2d"/>
<rect x="140.43" y="30.80" width="16.02" height="15.90" fill="#2d2d2d"/>
<rect x="156.05" y="30.80" width="16.02" height="15.90" fill="#2d2d2d"/>
<rect x="-47.08" y="46.30" width="16.02" height="15.90" fill="#878787"/>
<rect x="-31.45" y="46.30" width="16.02" height="15.90" fill="#878787"/>
<rect x="-15.82" y="46.30" width="16.02" height="15.90" fill="#878787"/>
<rect x="-0.20" y="46.30" width="16.02" height="15.90" fill="#878787"/>
<rect x="15.43" y="46.30" width="16.02" height="15.90" fill="#3c3c3c"/>
<rect x="31.05" y="46.30" width="16.02" height="15.90" fill="#646464"/>
<rect x="46.67" y="46.30" width="16.02" height="15.90" fill="#6e6e6e"/>
<rect x="62.30" y="46.30" width="16.02" height="15.90" fill="#8c8c8c"/>
<rect x="77.92" y="46.30" width="16.02" height="15.90" fill="#787878"/>
<rect x="93.55" y="46.30" width="16.02" height="15.90" fill="#5a5a5a"/>
<rect x="109.17" y="46.30" width="16.02" height="15.90" fill="#2d2d2d"/>
<rect x="124.80" y="46.30" width="16.02" height="15.90" fill="#2d2d2d"/>
<rect x="140.43" y="46.30" width="16.02" height="15.90" fill="#2d2d2d"/>
<rect x="156.05" y="46.30" width="16.02" height="15.90" fill="#2d2d2d"/>
<rect x="-47.08" y="61.80" width="16.02" height="15.90" fill="#9b9b9b"/>
<rect x="-31.45" y="61.80" width="16.02" height="15.90" fill="#9b9b9b"/>
<rect x="-15.82" y="61.80" width="16.02" height="15.90" fill="#9b9b9b"/>
<rect x="-0.20" y="61.80" width="16.02" height="15.90" fill="#9b9b9b"/>
<rect x="15.43" y="61.80" width="16.02" height="15.90" fill="#3c3c3c"/>
<rect x="31.05" y="61.80" width="16.02" height="15.90" fill="#646464"/>
<rect x="46.67" y="61.80" width="16.02" height="15.90" fill="#464646"/>
<rect x="62.30" y="61.80" width="16.02" height="15.90" fill="#787878"/>
<rect x="77.92" y="61.80" width="16.02" height="15.90" fill="#787878"/>
<rect x="93.55" y="61.80" width="16.02" height="15.90" fill="#505050"/>
<rect x="109.17" y="61.80" width="16.02" height="15.90" fill="#2d2d2d"/>
<rect x="124.80" y="61.80" width="16.02" height="15.90" fill="#2d2d2d"/>
<rect x="140.43" y="61.80" width="16.02" height="15.90" fill="#2d2d2d"/>
<rect x="156.05" y="61.80" width="16.02" height="15.90" fill="#2d2d2d"/>
<rect x="-47.08" y="77.30" width="16.02" height="15.90" fill="#a5a5a5"/>
<rect x="-31.45" y="77.30" width="16.02" height="15.90" fill="#a5a5a5"/>
<rect x="-15.82" y="77.30" width="16.02" height="15.90" fill="#a5a5a5"/>
<rect x="-0.20" y="77.30" width="16.02" height="15.90" fill="#a5a5a5"/>
<rect x="15.43" y="77.30" width="16.02" height="15.90" fill="#414141"/>
<rect x="31.05" y="77.30" width="16.02" height="15.90" fill="#646464"/>
<rect x="46.67" y="77.30" width="16.02" height="15.90" fill="#464646"/>
<rect x="62.30" y="77.30" width="16.02" height="15.90" fill="#5a5a5a"/>
<rect x="77.92" y="77.30" width="16.02" height="15.90" fill="#505050"/>
<rect x="93.55" y="77.30" width="16.02" height="15.90" fill="#373737"/>
<rect x="109.17" y="77.30" width="16.02" height="15.90" fill="#2d2d2d"/>
<rect x="124.80" y="77.30" width="16.02" height="15.90" fill="#2d2d2d"/>
<rect x="140.43" y="77.30" width="16.02" height="15.90" fill="#2d2d2d"/>
<rect x="156.05" y="77.30" width="16.02" height="15.90" fill="#2d2d2d"/>
<rect x="-47.08" y="92.80" width="16.02" height="15.90" fill="#919191"/>
<rect x="-31.45" y="92.80" width="16.02" height="15.90" fill="#919191"/>
<rect x="-15.82" y="92.80" width="16.02" height="15.90" fill="#919191"/>
<rect x="-0.20" y="92.80" width="16.02" height="15.90" fill="#919191"/>
<rect x="15.43" y="92.80" width="16.02" height="15.90" fill="#696969"/>
<rect x="31.05" y="92.80" width="16.02" height="15.90" fill="#414141"/>
<rect x="46.67" y="92.80" width="16.02" height="15.90" fill="#373737"/>
<rect x="62.30" y="92.80" width="16.02" height="15.90" fill="#373737"/>
<rect x="77.92" y="92.80" width="16.02" height="15.90" fill="#323232"/>
<rect x="93.55" y="92.80" width="16.02" height="15.90" fill="#323232"/>
<rect x="109.17" y="92.80" width="16.02" height="15.90" fill="#373737"/>
<rect x="124.80" y="92.80" width="16.02" height="15.90" fill="#373737"/>
<rect x="140.43" y="92.80" width="16.02" height="15.90" fill="#373737"/>
<rect x="156.05" y="92.80" width="16.02" height="15.90" fill="#373737"/>
<rect x="-47.08" y="108.30" width="16.02" height="15.90" fill="#737373"/>
<rect x="-31.45" y="108.30" width="16.02" height="15.90" fill="#737373"/>
<rect x="-15.82" y="108.30" width="16.02" height="15.90" fill="#737373"/>
<rect x="-0.20" y="108.30" width="16.02" height="15.90" fill="#737373"/>
<rect x="15.43" y="108.30" width="16.02" height="15.90" fill="#737373"/>
<rect x="31.05" y="108.30" width="16.02" height="15.90" fill="#505050"/>
<rect x="46.67" y="108.30" width="16.02" height="15.90" fill="#373737"/>
<rect x="62.30" y="108.30" width="16.02" height="15.90" fill="#4b4b4b"/>
<rect x="77.92" y="108.30" width="16.02" height="15.90" fill="#646464"/>
<rect x="93.55" y="108.30" width="16.02" height="15.90" fill="#3c3c3c"/>
<rect x="109.17" y="108.30" width="16.02" height="15.90" fill="#3c3c3c"/>
<rect x="124.80" y="108.30" width="16.02" height="15.90" fill="#3c3c3c"/>
<rect x="140.43" y="108.30" width="16.02" height="15.90" fill="#3c3c3c"/>
<rect x="156.05" y="108.30" width="16.02" height="15.90" fill="#3c3c3c"/>
<rect x="-47.08" y="123.80" width="16.02" height="15.90" fill="#737373"/>
<rect x="-31.45" y="123.80" width="16.02" height="15.90" fill="#737373"/>
<rect x="-15.82" y="123.80" width="16.02" height="15.90" fill="#737373"/>
<rect x="-0.20" y="123.80" width="16.02" height="15.90" fill="#737373"/>
<rect x="15.43" y="123.80" width="16.02" height="15.90" fill="#737373"/>
<rect x="31.05" y="123.80" width="16.02" height="15.90" fill="#505050"/>
<rect x="46.67" y="123.80" width="16.02" height="15.90" fill="#373737"/>
<rect x="62.30" y="123.80" width="16.02" height="15.90" fill="#4b4b4b"/>
<rect x="77.92" y="123.80" width="16.02" height="15.90" fill="#646464"/>
<rect x="93.55" y="123.80" width="16.02" height="15.90" fill="#3c3c3c"/>
<rect x="109.17" y="123.80" width="16.02" height="15.90" fill="#3c3c3c"/>
<rect x="124.80" y="123.80" width="16.02" height="15.90" fill="#3c3c3c"/>
<rect x="140.43" y="123.80" width="16.02" height="15.90" fill="#3c3c3c"/>
<rect x="156.05" y="123.80" width="16.02" height="15.90" fill="#3c3c3c"/>
<rect x="-47.08" y="139.30" width="16.02" height="15.90" fill="#737373"/>
<rect x="-31.45" y="139.30" width="16.02" height="15.90" fill="#737373"/>
<rect x="-15.82" y="139.30" width="16.02" height="15.90" fill="#737373"/>
<rect x="-0.20" y="139.30" width="16.02" height="15.90" fill="#737373"/>
<rect x="15.43" y="139.30" width="16.02" height="15.90" fill="#737373"/>
<rect x="31.05" y="139.30" width="16.02" height="15.90" fill="#505050"/>
<rect x="46.67" y="139.30" width="16.02" height="15.90" fill="#373737"/>
<rect x="62.30" y="139.30" width="16.02" height="15.90" fill="#4b4b4b"/>
<rect x="77.92" y="139.30" width="16.02" height="15.90" fill="#646464"/>
<rect x="93.55" y="139.30" width="16.02" height="15.90" fill="#3c3c3c"/>
<rect x="109.17" y="139.30" width="16.02" height="15.90" fill="#3c3c3c"/>
<rect x="124.80" y="139.30" width="16.02" height="15.90" fill="#3c3c3c"/>
<rect x="140.43" y="139.30" width="16.02" height="15.90" fill="#3c3c3c"/>
<rect x="156.05" y="139.30" width="16.02" height="15.90" fill="#3c3c3c"/>
<rect x="-47.08" y="154.80" width="16.02" height="15.90" fill="#737373"/>
<rect x="-31.45" y="154.80" width="16.02" height="15.90" fill="#737373"/>
<rect x="-15.82" y="154.80" width="16.02" height="15.90" fill="#737373"/>
<rect x="-0.20" y="154.80" width="16.02" height="15.90" fill="#737373"/>
<rect x="15.43" y="154.80" width="16.02" height="15.90" fill="#737373"/>
<rect x="31.05" y="154.80" width="16.02" height="15.90" fill="#505050"/>
<rect x="46.67" y="154.80" width="16.02" height="15.90" fill="#373737"/>
<rect x="62.30" y="154.80" width="16.02" height="15.90" fill="#4b4b4b"/>
<rect x="77.92" y="154.80" width="16.02" height="15.90" fill="#646464"/>
<rect x="93.55" y="154.80" width="16.02" height="15.90" fill="#3c3c3c"/>
<rect x="109.17" y="154.80" width="16.02" height="15.90" fill="#3c3c3c"/>
<rect x="124.80" y="154.80" width="16.02" height="15.90" fill="#3c3c3c"/>
<rect x="140.43" y="154.80" width="16.02" height="15.90" fill="#3c3c3c"/>
<rect x="156.05" y="154.80" width="16.02" height="15.90" fill="#3c3c3c"/>
</g>
<g filter="url(#b3)" fill="none">
<path d="M18,100 C14,80 14,56 20,38 C26,22 40,10 60,7 C76,5 92,10 102,20" stroke="#4e4e4e" stroke-width="10"/>
<path d="M104,30 C108,44 110,62 106,78 C104,86 100,92 94,96" stroke="#7c7c7c" stroke-width="6"/>
</g>
<g filter="url(#b3)">
<path d="M33,24 C38,16 46,12 56,11 C68,10 82,13 92,24 C98,34 101,46 101,58 C100,70 96,80 88,86 C80,90 72,90 66,87 C60,82 58,74 56,66 C54,58 48,54 42,52 C36,48 33,42 32,34 C32,30 32,27 33,24 Z" fill="#cccccc"/>
<path d="M30,62 C34,56 42,56 45,62 C47,70 47,80 45,88 C42,92 36,92 33,88 C30,82 29,72 30,62 Z" fill="#c4c4c4"/>
</g>
<g filter="url(#b2)">
<path d="M52,52 C58,50 66,54 70,58 C64,62 58,66 56,70 C54,62 52,56 52,52 Z" fill="#8a8a8a"/>
<path d="M46,56 C50,62 54,76 56,92 L48,94 C48,80 48,66 46,56 Z" fill="#555555"/>
</g>
<g filter="url(#b6)">
<ellipse cx="62" cy="36" rx="28" ry="20" fill="#e4e4e4"/>
</g>
</g>
<!-- panel 4 -->
<clipPath id="pc3"><rect x="0" y="0" width="124" height="123"/></clipPath>
<g transform="translate(463.00,148.00)" clip-path="url(#pc3)">
<g filter="url(#bg3)">
<rect x="-47.08" y="-46.70" width="16.02" height="15.90" fill="#646464"/>
<rect x="-31.45" y="-46.70" width="16.02" height="15.90" fill="#646464"/>
<rect x="-15.82" y="-46.70" width="16.02" height="15.90" fill="#646464"/>
<rect x="-0.20" y="-46.70" width="16.02" height="15.90" fill="#646464"/>
<rect x="15.43" y="-46.70" width="16.02" height="15.90" fill="#828282"/>
<rect x="31.05" y="-46.70" width="16.02" height="15.90" fill="#828282"/>
<rect x="46.67" y="-46.70" width="16.02" height="15.90" fill="#787878"/>
<rect x="62.30" y="-46.70" width="16.02" height="15.90" fill="#646464"/>
<rect x="77.92" y="-46.70" width="16.02" height="15.90" fill="#6e6e6e"/>
<rect x="93.55" y="-46.70" width="16.02" height="15.90" fill="#3c3c3c"/>
<rect x="109.17" y="-46.70" width="16.02" height="15.90" fill="#262626"/>
<rect x="124.80" y="-46.70" width="16.02" height="15.90" fill="#262626"/>
<rect x="140.43" y="-46.70" width="16.02" height="15.90" fill="#262626"/>
<rect x="156.05" y="-46.70" width="16.02" height="15.90" fill="#262626"/>
<rect x="-47.08" y="-31.20" width="16.02" height="15.90" fill="#646464"/>
<rect x="-31.45" y="-31.20" width="16.02" height="15.90" fill="#646464"/>
<rect x="-15.82" y="-31.20" width="16.02" height="15.90" fill="#646464"/>
<rect x="-0.20" y="-31.20" width="16.02" height="15.90" fill="#646464"/>
<rect x="15.43" y="-31.20" width="16.02" height="15.90" fill="#828282"/>
<rect x="31.05" y="-31.20" width="16.02" height="15.90" fill="#828282"/>
<rect x="46.67" y="-31.20" width="16.02" height="15.90" fill="#787878"/>
<rect x="62.30" y="-31.20" width="16.02" height="15.90" fill="#646464"/>
<rect x="77.92" y="-31.20" width="16.02" height="15.90" fill="#6e6e6e"/>
<rect x="93.55" y="-31.20" width="16.02" height="15.90" fill="#3c3c3c"/>
<rect x="109.17" y="-31.20" width="16.02" height="15.90" fill="#262626"/>
<rect x="124.80" y="-31.20" width="16.02" height="15.90" fill="#262626"/>
<rect x="140.43" y="-31.20" width="16.02" height="15.90" fill="#262626"/>
<rect x="156.05" y="-31.20" width="16.02" height="15.90" fill="#262626"/>
<rect x="-47.08" y="-15.70" width="16.02" height="15.90" fill="#646464"/>
<rect x="-31.45" y="-15.70" width="16.02" height="15.90" fill="#646464"/>
<rect x="-15.82" y="-15.70" width="16.02" height="15.90" fill="#646464"/>
<rect x="-0.20" y="-15.70" width="16.02" height="15.90" fill="#646464"/>
<rect x="15.43" y="-15.70" width="16.02" height="15.90" fill="#828282"/>
<rect x="31.05" y="-15.70" width="16.02" height="15.90" fill="#828282"/>
<rect x="46.67" y="-15.70" width="16.02" height="15.90" fill="#787878"/>
<rect x="62.30" y="-15.70" width="16.02" height="15.90" fill="#646464"/>
<rect x="77.92" y="-15.70" width="16.02" height="15.90" fill="#6e6e6e"/>
<rect x="93.55" y="-15.70" width="16.02" height="15.90" fill="#3c3c3c"/>
<rect x="109.17" y="-15.70" width="16.02" height="15.90" fill="#262626"/>
<rect x="124.80" y="-15.70" width="16.02" height="15.90" fill="#262626"/>
<rect x="140.43" y="-15.70" width="16.02" height="15.90" fill="#262626"/>
<rect x="156.05" y="-15.70" width="16.02" height="15.90" fill="#262626"/>
<rect x="-47.08" y="-0.20" width="16.02" height="15.90" fill="#646464"/>
<rect x="-31.45" y="-0.20" width="16.02" height="15.90" fill="#646464"/>
<rect x="-15.82" y="-0.20" width="16.02" height="15.90" fill="#646464"/>
<rect x="-0.20" y="-0.20" width="16.02" height="15.90" fill="#646464"/>
<rect x="15.43" y="-0.20" width="16.02" height="15.90" fill="#828282"/>
<rect x="31.05" y="-0.20" width="16.02" height="15.90" fill="#828282"/>
<rect x="46.67" y="-0.20" width="16.02" height="15.90" fill="#787878"/>
<rect x="62.30" y="-0.20" width="16.02" height="15.90" fill="#646464"/>
<rect x="77.92" y="-0.20" width="16.02" height="15.90" fill="#6e6e6e"/>
<rect x="93.55" y="-0.20" width="16.02" height="15.90" fill="#3c3c3c"/>
<rect x="109.17" y="-0.20" width="16.02" height="15.90" fill="#262626"/>
<rect x="124.80" y="-0.20" width="16.02" height="15.90" fill="#262626"/>
<rect x="140.43" y="-0.20" width="16.02" height="15.90" fill="#262626"/>
<rect x="156.05" y="-0.20" width="16.02" height="15.90" fill="#262626"/>
<rect x="-47.08" y="15.30" width="16.02" height="15.90" fill="#878787"/>
<rect x="-31.45" y="15.30" width="16.02" height="15.90" fill="#878787"/>
<rect x="-15.82" y="15.30" width="16.02" height="15.90" fill="#878787"/>
<rect x="-0.20" y="15.30" width="16.02" height="15.90" fill="#878787"/>
<rect x="15.43" y="15.30" width="16.02" height="15.90" fill="#878787"/>
<rect x="31.05" y="15.30" width="16.02" height="15.90" fill="#646464"/>
<rect x="46.67" y="15.30" width="16.02" height="15.90" fill="#5f5f5f"/>
<rect x="62.30" y="15.30" width="16.02" height="15.90" fill="#6e6e6e"/>
<rect x="77.92" y="15.30" width="16.02" height="15.90" fill="#646464"/>
<rect x="93.55" y="15.30" width="16.02" height="15.90" fill="#787878"/>
<rect x="109.17" y="15.30" width="16.02" height="15.90" fill="#262626"/>
<rect x="124.80" y="15.30" width="16.02" height="15.90" fill="#262626"/>
<rect x="140.43" y="15.30" width="16.02" height="15.90" fill="#262626"/>
<rect x="156.05" y="15.30" width="16.02" height="15.90" fill="#262626"/>
<rect x="-47.08" y="30.80" width="16.02" height="15.90" fill="#828282"/>
<rect x="-31.45" y="30.80" width="16.02" height="15.90" fill="#828282"/>
<rect x="-15.82" y="30.80" width="16.02" height="15.90" fill="#828282"/>
<rect x="-0.20" y="30.80" width="16.02" height="15.90" fill="#828282"/>
<rect x="15.43" y="30.80" width="16.02" height="15.90" fill="#5a5a5a"/>
<rect x="31.05" y="30.80" width="16.02" height="15.90" fill="#6e6e6e"/>
<rect x="46.67" y="30.80" width="16.02" height="15.90" fill="#969696"/>
<rect x="62.30" y="30.80" width="16.02" height="15.90" fill="#969696"/>
<rect x="77.92" y="30.80" width="16.02" height="15.90" fill="#787878"/>
<rect x="93.55" y="30.80" width="16.02" height="15.90" fill="#6e6e6e"/>
<rect x="109.17" y="30.80" width="16.02" height="15.90" fill="#262626"/>
<rect x="124.80" y="30.80" width="16.02" height="15.90" fill="#262626"/>
<rect x="140.43" y="30.80" width="16.02" height="15.90" fill="#262626"/>
<rect x="156.05" y="30.80" width="16.02" height="15.90" fill="#262626"/>
<rect x="-47.08" y="46.30" width="16.02" height="15.90" fill="#7d7d7d"/>
<rect x="-31.45" y="46.30" width="16.02" height="15.90" fill="#7d7d7d"/>
<rect x="-15.82" y="46.30" width="16.02" height="15.90" fill="#7d7d7d"/>
<rect x="-0.20" y="46.30" width="16.02" height="15.90" fill="#7d7d7d"/>
<rect x="15.43" y="46.30" width="16.02" height="15.90" fill="#505050"/>
<rect x="31.05" y="46.30" width="16.02" height="15.90" fill="#464646"/>
<rect x="46.67" y="46.30" width="16.02" height="15.90" fill="#8c8c8c"/>
<rect x="62.30" y="46.30" width="16.02" height="15.90" fill="#969696"/>
<rect x="77.92" y="46.30" width="16.02" height="15.90" fill="#787878"/>
<rect x="93.55" y="46.30" width="16.02" height="15.90" fill="#646464"/>
<rect x="109.17" y="46.30" width="16.02" height="15.90" fill="#262626"/>
<rect x="124.80" y="46.30" width="16.02" height="15.90" fill="#262626"/>
<rect x="140.43" y="46.30" width="16.02" height="15.90" fill="#262626"/>
<rect x="156.05" y="46.30" width="16.02" height="15.90" fill="#262626"/>
<rect x="-47.08" y="61.80" width="16.02" height="15.90" fill="#737373"/>
<rect x="-31.45" y="61.80" width="16.02" height="15.90" fill="#737373"/>
<rect x="-15.82" y="61.80" width="16.02" height="15.90" fill="#737373"/>
<rect x="-0.20" y="61.80" width="16.02" height="15.90" fill="#737373"/>
<rect x="15.43" y="61.80" width="16.02" height="15.90" fill="#5a5a5a"/>
<rect x="31.05" y="61.80" width="16.02" height="15.90" fill="#787878"/>
<rect x="46.67" y="61.80" width="16.02" height="15.90" fill="#646464"/>
<rect x="62.30" y="61.80" width="16.02" height="15.90" fill="#828282"/>
<rect x="77.92" y="61.80" width="16.02" height="15.90" fill="#646464"/>
<rect x="93.55" y="61.80" width="16.02" height="15.90" fill="#3c3c3c"/>
<rect x="109.17" y="61.80" width="16.02" height="15.90" fill="#262626"/>
<rect x="124.80" y="61.80" width="16.02" height="15.90" fill="#262626"/>
<rect x="140.43" y="61.80" width="16.02" height="15.90" fill="#262626"/>
<rect x="156.05" y="61.80" width="16.02" height="15.90" fill="#262626"/>
<rect x="-47.08" y="77.30" width="16.02" height="15.90" fill="#737373"/>
<rect x="-31.45" y="77.30" width="16.02" height="15.90" fill="#737373"/>
<rect x="-15.82" y="77.30" width="16.02" height="15.90" fill="#737373"/>
<rect x="-0.20" y="77.30" width="16.02" height="15.90" fill="#737373"/>
<rect x="15.43" y="77.30" width="16.02" height="15.90" fill="#6e6e6e"/>
<rect x="31.05" y="77.30" width="16.02" height="15.90" fill="#737373"/>
<rect x="46.67" y="77.30" width="16.02" height="15.90" fill="#555555"/>
<rect x="62.30" y="77.30" width="16.02" height="15.90" fill="#505050"/>
<rect x="77.92" y="77.30" width="16.02" height="15.90" fill="#373737"/>
<rect x="93.55" y="77.30" width="16.02" height="15.90" fill="#282828"/>
<rect x="109.17" y="77.30" width="16.02" height="15.90" fill="#262626"/>
<rect x="124.80" y="77.30" width="16.02" height="15.90" fill="#262626"/>
<rect x="140.43" y="77.30" width="16.02" height="15.90" fill="#262626"/>
<rect x="156.05" y="77.30" width="16.02" height="15.90" fill="#262626"/>
<rect x="-47.08" y="92.80" width="16.02" height="15.90" fill="#696969"/>
<rect x="-31.45" y="92.80" width="16.02" height="15.90" fill="#696969"/>
<rect x="-15.82" y="92.80" width="16.02" height="15.90" fill="#696969"/>
<rect x="-0.20" y="92.80" width="16.02" height="15.90" fill="#696969"/>
<rect x="15.43" y="92.80" width="16.02" height="15.90" fill="#7d7d7d"/>
<rect x="31.05" y="92.80" width="16.02" height="15.90" fill="#7d7d7d"/>
<rect x="46.67" y="92.80" width="16.02" height="15.90" fill="#787878"/>
<rect x="62.30" y="92.80" width="16.02" height="15.90" fill="#373737"/>
<rect x="77.92" y="92.80" width="16.02" height="15.90" fill="#2d2d2d"/>
<rect x="93.55" y="92.80" width="16.02" height="15.90" fill="#282828"/>
<rect x="109.17" y="92.80" width="16.02" height="15.90" fill="#262626"/>
<rect x="124.80" y="92.80" width="16.02" height="15.90" fill="#262626"/>
<rect x="140.43" y="92.80" width="16.02" height="15.90" fill="#262626"/>
<rect x="156.05" y="92.80" width="16.02" height="15.90" fill="#262626"/>
<rect x="-47.08" y="108.30" width="16.02" height="15.90" fill="#464646"/>
<rect x="-31.45" y="108.30" width="16.02" height="15.90" fill="#464646"/>
<rect x="-15.82" y="108.30" width="16.02" height="15.90" fill="#464646"/>
<rect x="-0.20" y="108.30" width="16.02" height="15.90" fill="#464646"/>
<rect x="15.43" y="108.30" width="16.02" height="15.90" fill="#5a5a5a"/>
<rect x="31.05" y="108.30" width="16.02" height="15.90" fill="#737373"/>
<rect x="46.67" y="108.30" width="16.02" height="15.90" fill="#505050"/>
<rect x="62.30" y="108.30" width="16.02" height="15.90" fill="#414141"/>
<rect x="77.92" y="108.30" width="16.02" height="15.90" fill="#2d2d2d"/>
<rect x="93.55" y="108.30" width="16.02" height="15.90" fill="#2a2a2a"/>
<rect x="109.17" y="108.30" width="16.02" height="15.90" fill="#2a2a2a"/>
<rect x="124.80" y="108.30" width="16.02" height="15.90" fill="#2a2a2a"/>
<rect x="140.43" y="108.30" width="16.02" height="15.90" fill="#2a2a2a"/>
<rect x="156.05" y="108.30" width="16.02" height="15.90" fill="#2a2a2a"/>
<rect x="-47.08" y="123.80" width="16.02" height="15.90" fill="#464646"/>
<rect x="-31.45" y="123.80" width="16.02" height="15.90" fill="#464646"/>
<rect x="-15.82" y="123.80" width="16.02" height="15.90" fill="#464646"/>
<rect x="-0.20" y="123.80" width="16.02" height="15.90" fill="#464646"/>
<rect x="15.43" y="123.80" width="16.02" height="15.90" fill="#5a5a5a"/>
<rect x="31.05" y="123.80" width="16.02" height="15.90" fill="#737373"/>
<rect x="46.67" y="123.80" width="16.02" height="15.90" fill="#505050"/>
<rect x="62.30" y="123.80" width="16.02" height="15.90" fill="#414141"/>
<rect x="77.92" y="123.80" width="16.02" height="15.90" fill="#2d2d2d"/>
<rect x="93.55" y="123.80" width="16.02" height="15.90" fill="#2a2a2a"/>
<rect x="109.17" y="123.80" width="16.02" height="15.90" fill="#2a2a2a"/>
<rect x="124.80" y="123.80" width="16.02" height="15.90" fill="#2a2a2a"/>
<rect x="140.43" y="123.80" width="16.02" height="15.90" fill="#2a2a2a"/>
<rect x="156.05" y="123.80" width="16.02" height="15.90" fill="#2a2a2a"/>
<rect x="-47.08" y="139.30" width="16.02" height="15.90" fill="#464646"/>
<rect x="-31.45" y="139.30" width="16.02" height="15.90" fill="#464646"/>
<rect x="-15.82" y="139.30" width="16.02" height="15.90" fill="#464646"/>
<rect x="-0.20" y="139.30" width="16.02" height="15.90" fill="#464646"/>
<rect x="15.43" y="139.30" width="16.02" height="15.90" fill="#5a5a5a"/>
<rect x="31.05" y="139.30" width="16.02" height="15.90" fill="#737373"/>
<rect x="46.67" y="139.30" width="16.02" height="15.90" fill="#505050"/>
<rect x="62.30" y="139.30" width="16.02" height="15.90" fill="#414141"/>
<rect x="77.92" y="139.30" width="16.02" height="15.90" fill="#2d2d2d"/>
<rect x="93.55" y="139.30" width="16.02" height="15.90" fill="#2a2a2a"/>
<rect x="109.17" y="139.30" width="16.02" height="15.90" fill="#2a2a2a"/>
<rect x="124.80" y="139.30" width="16.02" height="15.90" fill="#2a2a2a"/>
<rect x="140.43" y="139.30" width="16.02" height="15.90" fill="#2a2a2a"/>
<rect x="156.05" y="139.30" width="16.02" height="15.90" fill="#2a2a2a"/>
<rect x="-47.08" y="154.80" width="16.02" height="15.90" fill="#464646"/>
<rect x="-31.45" y="154.80" width="16.02" height="15.90" fill="#464646"/>
<rect x="-15.82" y="154.80" width="16.02" height="15.90" fill="#464646"/>
<rect x="-0.20" y="154.80" width="16.02" height="15.90" fill="#464646"/>
<rect x="15.43" y="154.80" width="16.02" height="15.90" fill="#5a5a5a"/>
<rect x="31.05" y="154.80" width="16.02" height="15.90" fill="#737373"/>
<rect x="46.67" y="154.80" width="16.02" height="15.90" fill="#505050"/>
<rect x="62.30" y="154.80" width="16.02" height="15.90" fill="#414141"/>
<rect x="77.92" y="154.80" width="16.02" height="15.90" fill="#2d2d2d"/>
<rect x="93.55" y="154.80" width="16.02" height="15.90" fill="#2a2a2a"/>
<rect x="109.17" y="154.80" width="16.02" height="15.90" fill="#2a2a2a"/>
<rect x="124.80" y="154.80" width="16.02" height="15.90" fill="#2a2a2a"/>
<rect x="140.43" y="154.80" width="16.02" height="15.90" fill="#2a2a2a"/>
<rect x="156.05" y="154.80" width="16.02" height="15.90" fill="#2a2a2a"/>
</g>
<g filter="url(#b3)">
<path d="M84,-5 L130,-5 L130,130 L55,130 C62,110 74,100 86,90 C100,80 108,64 109,48 C109,30 104,14 84,-5 Z" fill="#2a2a2a"/>
</g>
<g filter="url(#b3)" fill="none">
<path d="M70,4 C88,10 100,24 104,42 C106,56 102,70 94,80" stroke="#a4a4a4" stroke-width="7"/>
<path d="M84,22 C92,32 96,46 96,60 C96,70 92,78 86,84" stroke="#5c5c5c" stroke-width="5"/>
<path d="M10,110 C4,80 8,50 24,30 C38,14 54,8 70,8" stroke="#909090" stroke-width="7"/>
<path d="M30,100 C24,80 24,60 32,44" stroke="#585858" stroke-width="6"/>
</g>
<g filter="url(#b3)">
<path d="M36,42 C38,34 48,28 61,28 C72,28 82,32 88,42 C92,50 92,60 88,68 C84,76 76,80 66,80 C58,80 52,76 48,68 C45,60 42,50 36,42 Z" fill="#bcbcbc"/>
<ellipse cx="48" cy="38" rx="12" ry="8" fill="#e8e8e8"/>
</g>
<g filter="url(#b2)">
<circle cx="38" cy="71" r="4.5" fill="#f0f0f0"/>
<ellipse cx="53" cy="101" rx="7" ry="6" fill="#dddddd"/>
<circle cx="73" cy="116" r="3" fill="#bbbbbb"/>
</g>
<g filter="url(#b6)">
<ellipse cx="64" cy="48" rx="18" ry="14" fill="#dadada"/>
</g>
</g>
<!-- panel 5 -->
<clipPath id="pc4"><rect x="0" y="0" width="123" height="123"/></clipPath>
<g transform="translate(606.00,148.00)" clip-path="url(#pc4)">
<g filter="url(#bg4)">
<rect x="-47.08" y="-46.70" width="16.02" height="15.90" fill="#5f5f5f"/>
<rect x="-31.45" y="-46.70" width="16.02" height="15.90" fill="#5f5f5f"/>
<rect x="-15.82" y="-46.70" width="16.02" height="15.90" fill="#5f5f5f"/>
<rect x="-0.20" y="-46.70" width="16.02" height="15.90" fill="#5f5f5f"/>
<rect x="15.43" y="-46.70" width="16.02" height="15.90" fill="#5f5f5f"/>
<rect x="31.05" y="-46.70" width="16.02" height="15.90" fill="#696969"/>
<rect x="46.67" y="-46.70" width="16.02" height="15.90" fill="#6e6e6e"/>
<rect x="62.30" y="-46.70" width="16.02" height="15.90" fill="#5f5f5f"/>
<rect x="77.92" y="-46.70" width="16.02" height="15.90" fill="#3c3c3c"/>
<rect x="93.55" y="-46.70" width="16.02" height="15.90" fill="#282828"/>
<rect x="109.17" y="-46.70" width="16.02" height="15.90" fill="#232323"/>
<rect x="124.80" y="-46.70" width="16.02" height="15.90" fill="#232323"/>
<rect x="140.43" y="-46.70" width="16.02" height="15.90" fill="#232323"/>
<rect x="156.05" y="-46.70" width="16.02" height="15.90" fill="#232323"/>
<rect x="-47.08" y="-31.20" width="16.02" height="15.90" fill="#5f5f5f"/>
<rect x="-31.45" y="-31.20" width="16.02" height="15.90" fill="#5f5f5f"/>
<rect x="-15.82" y="-31.20" width="16.02" height="15.90" fill="#5f5f5f"/>
<rect x="-0.20" y="-31.20" width="16.02" height="15.90" fill="#5f5f5f"/>
<rect x="15.43" y="-31.20" width="16.02" height="15.90" fill="#5f5f5f"/>
<rect x="31.05" y="-31.20" width="16.02" height="15.90" fill="#696969"/>
<rect x="46.67" y="-31.20" width="16.02" height="15.90" fill="#6e6e6e"/>
<rect x="62.30" y="-31.20" width="16.02" height="15.90" fill="#5f5f5f"/>
<rect x="77.92" y="-31.20" width="16.02" height="15.90" fill="#3c3c3c"/>
<rect x="93.55" y="-31.20" width="16.02" height="15.90" fill="#282828"/>
<rect x="109.17" y="-31.20" width="16.02" height="15.90" fill="#232323"/>
<rect x="124.80" y="-31.20" width="16.02" height="15.90" fill="#232323"/>
<rect x="140.43" y="-31.20" width="16.02" height="15.90" fill="#232323"/>
<rect x="156.05" y="-31.20" width="16.02" height="15.90" fill="#232323"/>
<rect x="-47.08" y="-15.70" width="16.02" height="15.90" fill="#5f5f5f"/>
<rect x="-31.45" y="-15.70" width="16.02" height="15.90" fill="#5f5f5f"/>
<rect x="-15.82" y="-15.70" width="16.02" height="15.90" fill="#5f5f5f"/>
<rect x="-0.20" y="-15.70" width="16.02" height="15.90" fill="#5f5f5f"/>
<rect x="15.43" y="-15.70" width="16.02" height="15.90" fill="#5f5f5f"/>
<rect x="31.05" y="-15.70" width="16.02" height="15.90" fill="#696969"/>
<rect x="46.67" y="-15.70" width="16.02" height="15.90" fill="#6e6e6e"/>
<rect x="62.30" y="-15.70" width="16.02" height="15.90" fill="#5f5f5f"/>
<rect x="77.92" y="-15.70" width="16.02" height="15.90" fill="#3c3c3c"/>
<rect x="93.55" y="-15.70" width="16.02" height="15.90" fill="#282828"/>
<rect x="109.17" y="-15.70" width="16.02" height="15.90" fill="#232323"/>
<rect x="124.80" y="-15.70" width="16.02" height="15.90" fill="#232323"/>
<rect x="140.43" y="-15.70" width="16.02" height="15.90" fill="#232323"/>
<rect x="156.05" y="-15.70" width="16.02" height="15.90" fill="#232323"/>
<rect x="-47.08" y="-0.20" width="16.02" height="15.90" fill="#5f5f5f"/>
<rect x="-31.45" y="-0.20" width="16.02" height="15.90" fill="#5f5f5f"/>
<rect x="-15.82" y="-0.20" width="16.02" height="15.90" fill="#5f5f5f"/>
<rect x="-0.20" y="-0.20" width="16.02" height="15.90" fill="#5f5f5f"/>
<rect x="15.43" y="-0.20" width="16.02" height="15.90" fill="#5f5f5f"/>
<rect x="31.05" y="-0.20" width="16.02" height="15.90" fill="#696969"/>
<rect x="46.67" y="-0.20" width="16.02" height="15.90" fill="#6e6e6e"/>
<rect x="62.30" y="-0.20" width="16.02" height="15.90" fill="#5f5f5f"/>
<rect x="77.92" y="-0.20" width="16.02" height="15.90" fill="#3c3c3c"/>
<rect x="93.55" y="-0.20" width="16.02" height="15.90" fill="#282828"/>
<rect x="109.17" y="-0.20" width="16.02" height="15.90" fill="#232323"/>
<rect x="124.80" y="-0.20" width="16.02" height="15.90" fill="#232323"/>
<rect x="140.43" y="-0.20" width="16.02" height="15.90" fill="#232323"/>
<rect x="156.05" y="-0.20" width="16.02" height="15.90" fill="#232323"/>
<rect x="-47.08" y="15.30" width="16.02" height="15.90" fill="#6e6e6e"/>
<rect x="-31.45" y="15.30" width="16.02" height="15.90" fill="#6e6e6e"/>
<rect x="-15.82" y="15.30" width="16.02" height="15.90" fill="#6e6e6e"/>
<rect x="-0.20" y="15.30" width="16.02" height="15.90" fill="#6e6e6e"/>
<rect x="15.43" y="15.30" width="16.02" height="15.90" fill="#969696"/>
<rect x="31.05" y="15.30" width="16.02" height="15.90" fill="#a0a0a0"/>
<rect x="46.67" y="15.30" width="16.02" height="15.90" fill="#828282"/>
<rect x="62.30" y="15.30" width="16.02" height="15.90" fill="#787878"/>
<rect x="77.92" y="15.30" width="16.02" height="15.90" fill="#646464"/>
<rect x="93.55" y="15.30" width="16.02" height="15.90" fill="#2a2a2a"/>
<rect x="109.17" y="15.30" width="16.02" height="15.90" fill="#232323"/>
<rect x="124.80" y="15.30" width="16.02" height="15.90" fill="#232323"/>
<rect x="140.43" y="15.30" width="16.02" height="15.90" fill="#232323"/>
<rect x="156.05" y="15.30" width="16.02" height="15.90" fill="#232323"/>
<rect x="-47.08" y="30.80" width="16.02" height="15.90" fill="#878787"/>
<rect x="-31.45" y="30.80" width="16.02" height="15.90" fill="#878787"/>
<rect x="-15.82" y="30.80" width="16.02" height="15.90" fill="#878787"/>
<rect x="-0.20" y="30.80" width="16.02" height="15.90" fill="#878787"/>
<rect x="15.43" y="30.80" width="16.02" height="15.90" fill="#969696"/>
<rect x="31.05" y="30.80" width="16.02" height="15.90" fill="#a0a0a0"/>
<rect x="46.67" y="30.80" width="16.02" height="15.90" fill="#a0a0a0"/>
<rect x="62.30" y="30.80" width="16.02" height="15.90" fill="#969696"/>
<rect x="77.92" y="30.80" width="16.02" height="15.90" fill="#6e6e6e"/>
<rect x="93.55" y="30.80" width="16.02" height="15.90" fill="#303030"/>
<rect x="109.17" y="30.80" width="16.02" height="15.90" fill="#232323"/>
<rect x="124.80" y="30.80" width="16.02" height="15.90" fill="#232323"/>
<rect x="140.43" y="30.80" width="16.02" height="15.90" fill="#232323"/>
<rect x="156.05" y="30.80" width="16.02" height="15.90" fill="#232323"/>
<rect x="-47.08" y="46.30" width="16.02" height="15.90" fill="#7d7d7d"/>
<rect x="-31.45" y="46.30" width="16.02" height="15.90" fill="#7d7d7d"/>
<rect x="-15.82" y="46.30" width="16.02" height="15.90" fill="#7d7d7d"/>
<rect x="-0.20" y="46.30" width="16.02" height="15.90" fill="#7d7d7d"/>
<rect x="15.43" y="46.30" width="16.02" height="15.90" fill="#969696"/>
<rect x="31.05" y="46.30" width="16.02" height="15.90" fill="#aaaaaa"/>
<rect x="46.67" y="46.30" width="16.02" height="15.90" fill="#aaaaaa"/>
<rect x="62.30" y="46.30" width="16.02" height="15.90" fill="#a0a0a0"/>
<rect x="77.92" y="46.30" width="16.02" height="15.90" fill="#787878"/>
<rect x="93.55" y="46.30" width="16.02" height="15.90" fill="#2d2d2d"/>
<rect x="109.17" y="46.30" width="16.02" height="15.90" fill="#232323"/>
<rect x="124.80" y="46.30" width="16.02" height="15.90" fill="#232323"/>
<rect x="140.43" y="46.30" width="16.02" height="15.90" fill="#232323"/>
<rect x="156.05" y="46.30" width="16.02" height="15.90" fill="#232323"/>
<rect x="-47.08" y="61.80" width="16.02" height="15.90" fill="#828282"/>
<rect x="-31.45" y="61.80" width="16.02" height="15.90" fill="#828282"/>
<rect x="-15.82" y="61.80" width="16.02" height="15.90" fill="#828282"/>
<rect x="-0.20" y="61.80" width="16.02" height="15.90" fill="#828282"/>
<rect x="15.43" y="61.80" width="16.02" height="15.90" fill="#969696"/>
<rect x="31.05" y="61.80" width="16.02" height="15.90" fill="#a0a0a0"/>
<rect x="46.67" y="61.80" width="16.02" height="15.90" fill="#a0a0a0"/>
<rect x="62.30" y="61.80" width="16.02" height="15.90" fill="#a0a0a0"/>
<rect x="77.92" y="61.80" width="16.02" height="15.90" fill="#828282"/>
<rect x="93.55" y="61.80" width="16.02" height="15.90" fill="#2a2a2a"/>
<rect x="109.17" y="61.80" width="16.02" height="15.90" fill="#232323"/>
<rect x="124.80" y="61.80" width="16.02" height="15.90" fill="#232323"/>
<rect x="140.43" y="61.80" width="16.02" height="15.90" fill="#232323"/>
<rect x="156.05" y="61.80" width="16.02" height="15.90" fill="#232323"/>
<rect x="-47.08" y="77.30" width="16.02" height="15.90" fill="#737373"/>
<rect x="-31.45" y="77.30" width="16.02" height="15.90" fill="#737373"/>
<rect x="-15.82" y="77.30" width="16.02" height="15.90" fill="#737373"/>
<rect x="-0.20" y="77.30" width="16.02" height="15.90" fill="#737373"/>
<rect x="15.43" y="77.30" width="16.02" height="15.90" fill="#828282"/>
<rect x="31.05" y="77.30" width="16.02" height="15.90" fill="#aaaaaa"/>
<rect x="46.67" y="77.30" width="16.02" height="15.90" fill="#969696"/>
<rect x="62.30" y="77.30" width="16.02" height="15.90" fill="#8c8c8c"/>
<rect x="77.92" y="77.30" width="16.02" height="15.90" fill="#4b4b4b"/>
<rect x="93.55" y="77.30" width="16.02" height="15.90" fill="#262626"/>
<rect x="109.17" y="77.30" width="16.02" height="15.90" fill="#232323"/>
<rect x="124.80" y="77.30" width="16.02" height="15.90" fill="#232323"/>
<rect x="140.43" y="77.30" width="16.02" height="15.90" fill="#232323"/>
<rect x="156.05" y="77.30" width="16.02" height="15.90" fill="#232323"/>
<rect x="-47.08" y="92.80" width="16.02" height="15.90" fill="#646464"/>
<rect x="-31.45" y="92.80" width="16.02" height="15.90" fill="#646464"/>
<rect x="-15.82" y="92.80" width="16.02" height="15.90" fill="#646464"/>
<rect x="-0.20" y="92.80" width="16.02" height="15.90" fill="#646464"/>
<rect x="15.43" y="92.80" width="16.02" height="15.90" fill="#787878"/>
<rect x="31.05" y="92.80" width="16.02" height="15.90" fill="#aaaaaa"/>
<rect x="46.67" y="92.80" width="16.02" height="15.90" fill="#a0a0a0"/>
<rect x="62.30" y="92.80" width="16.02" height="15.90" fill="#646464"/>
<rect x="77.92" y="92.80" width="16.02" height="15.90" fill="#2a2a2a"/>
<rect x="93.55" y="92.80" width="16.02" height="15.90" fill="#242424"/>
<rect x="109.17" y="92.80" width="16.02" height="15.90" fill="#232323"/>
<rect x="124.80" y="92.80" width="16.02" height="15.90" fill="#232323"/>
<rect x="140.43" y="92.80" width="16.02" height="15.90" fill="#232323"/>
<rect x="156.05" y="92.80" width="16.02" height="15.90" fill="#232323"/>
<rect x="-47.08" y="108.30" width="16.02" height="15.90" fill="#555555"/>
<rect x="-31.45" y="108.30" width="16.02" height="15.90" fill="#555555"/>
<rect x="-15.82" y="108.30" width="16.02" height="15.90" fill="#555555"/>
<rect x="-0.20" y="108.30" width="16.02" height="15.90" fill="#555555"/>
<rect x="15.43" y="108.30" width="16.02" height="15.90" fill="#5a5a5a"/>
<rect x="31.05" y="108.30" width="16.02" height="15.90" fill="#505050"/>
<rect x="46.67" y="108.30" width="16.02" height="15.90" fill="#555555"/>
<rect x="62.30" y="108.30" width="16.02" height="15.90" fill="#4b4b4b"/>
<rect x="77.92" y="108.30" width="16.02" height="15.90" fill="#2d2d2d"/>
<rect x="93.55" y="108.30" width="16.02" height="15.90" fill="#282828"/>
<rect x="109.17" y="108.30" width="16.02" height="15.90" fill="#262626"/>
<rect x="124.80" y="108.30" width="16.02" height="15.90" fill="#262626"/>
<rect x="140.43" y="108.30" width="16.02" height="15.90" fill="#262626"/>
<rect x="156.05" y="108.30" width="16.02" height="15.90" fill="#262626"/>
<rect x="-47.08" y="123.80" width="16.02" height="15.90" fill="#555555"/>
<rect x="-31.45" y="123.80" width="16.02" height="15.90" fill="#555555"/>
<rect x="-15.82" y="123.80" width="16.02" height="15.90" fill="#555555"/>
<rect x="-0.20" y="123.80" width="16.02" height="15.90" fill="#555555"/>
<rect x="15.43" y="123.80" width="16.02" height="15.90" fill="#5a5a5a"/>
<rect x="31.05" y="123.80" width="16.02" height="15.90" fill="#505050"/>
<rect x="46.67" y="123.80" width="16.02" height="15.90" fill="#555555"/>
<rect x="62.30" y="123.80" width="16.02" height="15.90" fill="#4b4b4b"/>
<rect x="77.92" y="123.80" width="16.02" height="15.90" fill="#2d2d2d"/>
<rect x="93.55" y="123.80" width="16.02" height="15.90" fill="#282828"/>
<rect x="109.17" y="123.80" width="16.02" height="15.90" fill="#262626"/>
<rect x="124.80" y="123.80" width="16.02" height="15.90" fill="#262626"/>
<rect x="140.43" y="123.80" width="16.02" height="15.90" fill="#262626"/>
<rect x="156.05" y="123.80" width="16.02" height="15.90" fill="#262626"/>
<rect x="-47.08" y="139.30" width="16.02" height="15.90" fill="#555555"/>
<rect x="-31.45" y="139.30" width="16.02" height="15.90" fill="#555555"/>
<rect x="-15.82" y="139.30" width="16.02" height="15.90" fill="#555555"/>
<rect x="-0.20" y="139.30" width="16.02" height="15.90" fill="#555555"/>
<rect x="15.43" y="139.30" width="16.02" height="15.90" fill="#5a5a5a"/>
<rect x="31.05" y="139.30" width="16.02" height="15.90" fill="#505050"/>
<rect x="46.67" y="139.30" width="16.02" height="15.90" fill="#555555"/>
<rect x="62.30" y="139.30" width="16.02" height="15.90" fill="#4b4b4b"/>
<rect x="77.92" y="139.30" width="16.02" height="15.90" fill="#2d2d2d"/>
<rect x="93.55" y="139.30" width="16.02" height="15.90" fill="#282828"/>
<rect x="109.17" y="139.30" width="16.02" height="15.90" fill="#262626"/>
<rect x="124.80" y="139.30" width="16.02" height="15.90" fill="#262626"/>
<rect x="140.43" y="139.30" width="16.02" height="15.90" fill="#262626"/>
<rect x="156.05" y="139.30" width="16.02" height="15.90" fill="#262626"/>
<rect x="-47.08" y="154.80" width="16.02" height="15.90" fill="#555555"/>
<rect x="-31.45" y="154.80" width="16.02" height="15.90" fill="#555555"/>
<rect x="-15.82" y="154.80" width="16.02" height="15.90" fill="#555555"/>
<rect x="-0.20" y="154.80" width="16.02" height="15.90" fill="#555555"/>
<rect x="15.43" y="154.80" width="16.02" height="15.90" fill="#5a5a5a"/>
<rect x="31.05" y="154.80" width="16.02" height="15.90" fill="#505050"/>
<rect x="46.67" y="154.80" width="16.02" height="15.90" fill="#555555"/>
<rect x="62.30" y="154.80" width="16.02" height="15.90" fill="#4b4b4b"/>
<rect x="77.92" y="154.80" width="16.02" height="15.90" fill="#2d2d2d"/>
<rect x="93.55" y="154.80" width="16.02" height="15.90" fill="#282828"/>
<rect x="109.17" y="154.80" width="16.02" height="15.90" fill="#262626"/>
<rect x="124.80" y="154.80" width="16.02" height="15.90" fill="#262626"/>
<rect x="140.43" y="154.80" width="16.02" height="15.90" fill="#262626"/>
<rect x="156.05" y="154.80" width="16.02" height="15.90" fill="#262626"/>
</g>
<g filter="url(#b3)">
<path d="M70,-5 L130,-5 L130,130 L65,130 C72,112 80,100 86,90 C94,78 96,60 94,44 C90,28 84,14 70,-5 Z" fill="#2a2a2a"/>
</g>
<g filter="url(#b3)" fill="none">
<path d="M4,40 C20,22 42,14 62,16 C78,18 88,30 91,48 C94,66 88,82 76,92" stroke="#9a9a9a" stroke-width="9"/>
</g>
<g filter="url(#b3)">
<path d="M38,44 C40,36 52,33 62,34 C72,35 78,42 77,52 C76,60 72,66 64,67 C54,68 44,64 40,58 C37,54 37,48 38,44 Z" fill="#dadada"/>
<path d="M28,80 C30,76 40,75 46,77 C54,82 60,92 68,104 C66,110 60,112 50,110 C40,108 32,104 29,96 C28,90 28,84 28,80 Z" fill="#d4d4d4"/>
</g>
<g filter="url(#b6)">
<ellipse cx="58" cy="46" rx="14" ry="10" fill="#e6e6e6"/>
</g>
</g>
<!--/PANELS-->
<!-- panel borders -->
<g fill="none" stroke="#000" stroke-width="1.3">
<rect x="35.5" y="147.5" width="125" height="124"/>
<rect x="178.5" y="147.5" width="124" height="124"/>
<rect x="320.5" y="147.5" width="125" height="124"/>
<rect x="462.5" y="147.5" width="125" height="124"/>
<rect x="605.5" y="147.5" width="124" height="124"/>
</g>

<!-- histogram -->
<path fill="#8b008b" d="M768,359.3 L768.0,356.0 L799.2,356.0 L799.2,327.0 L802.0,327.0 L802.0,306.0 L807.1,306.0 L807.1,248.0 L811.0,248.0 L811.0,187.0 L817.0,187.0 L817.0,91.0 L820.1,91.0 L820.1,90.0 L823.0,90.0 L823.0,100.0 L826.0,100.0 L826.0,80.0 L828.2,80.0 L828.2,73.0 L829.9,73.0 L829.9,132.0 L833.8,132.0 L833.8,165.0 L838.8,165.0 L838.8,231.0 L845.7,231.0 L845.7,280.0 L851.9,280.0 L851.9,326.0 L860.0,326.0 L860.0,343.0 L865.8,343.0 L865.8,358.0 L1041.0,358.0 L1041,359.3 Z"/>
<line x1="827.1" y1="59.5" x2="827.1" y2="359.3" stroke="#000" stroke-width="2.1"/>
<line x1="835" y1="358.6" x2="835" y2="59.5" stroke="#aaa" stroke-width="5.6" stroke-dasharray="5.5 9.19"/>
<rect x="750.5" y="59.5" width="300" height="299.8" fill="none" stroke="#000" stroke-width="1.2"/>
<!-- ticks -->
<g stroke="#000" stroke-width="1.1">
<line x1="785.8" y1="359.3" x2="785.8" y2="364.2"/>
<line x1="829.9" y1="359.3" x2="829.9" y2="364.2"/>
<line x1="874.0" y1="359.3" x2="874.0" y2="364.2"/>
<line x1="918.2" y1="359.3" x2="918.2" y2="364.2"/>
<line x1="962.3" y1="359.3" x2="962.3" y2="364.2"/>
<line x1="1006.4" y1="359.3" x2="1006.4" y2="364.2"/>
<line x1="750.5" y1="302.2" x2="755.4" y2="302.2"/>
<line x1="750.5" y1="245.0" x2="755.4" y2="245.0"/>
<line x1="750.5" y1="187.9" x2="755.4" y2="187.9"/>
<line x1="750.5" y1="130.7" x2="755.4" y2="130.7"/>
<line x1="750.5" y1="73.6" x2="755.4" y2="73.6"/>
<line x1="1050.5" y1="302.2" x2="1045.6" y2="302.2"/>
<line x1="1050.5" y1="245.0" x2="1045.6" y2="245.0"/>
<line x1="1050.5" y1="187.9" x2="1045.6" y2="187.9"/>
<line x1="1050.5" y1="130.7" x2="1045.6" y2="130.7"/>
<line x1="1050.5" y1="73.6" x2="1045.6" y2="73.6"/>
</g>
<g font-size="14.5" text-anchor="middle">
<text x="784.8" y="381">25</text>
<text x="829.1" y="381">50</text>
<text x="873.2" y="381">75</text>
<text x="917.6" y="381">100</text>
<text x="961.7" y="381">125</text>
<text x="1005.8" y="381">150</text>
</g>
<g font-size="14.5">
<text x="1056" y="365">0.0</text>
<text x="1056" y="307.9">0.2</text>
<text x="1056" y="250.7">0.4</text>
<text x="1056" y="193.6">0.6</text>
<text x="1056" y="136.4">0.8</text>
<text x="1056" y="79.3">1.0</text>
</g>
<text font-size="14.2" transform="translate(1092.8,256) rotate(-90)" textLength="90" lengthAdjust="spacingAndGlyphs">Relative Prob</text>
<text x="814" y="50" font-size="15.8" textLength="172" lengthAdjust="spacingAndGlyphs">Estimated MSW, knots</text>

<!-- legend -->
<line x1="727.8" y1="396" x2="760" y2="396" stroke="#000" stroke-width="2.1"/>
<text x="772" y="402" font-size="17.4" textLength="130" lengthAdjust="spacingAndGlyphs">D-PRINT average</text>
<line x1="933" y1="396" x2="963" y2="396" stroke="#aaa" stroke-width="5.8" stroke-dasharray="5.8 8.7"/>
<text x="975.3" y="402" font-size="17.4" textLength="94" lengthAdjust="spacingAndGlyphs">JTWC official</text>
</svg>
</body></html>
